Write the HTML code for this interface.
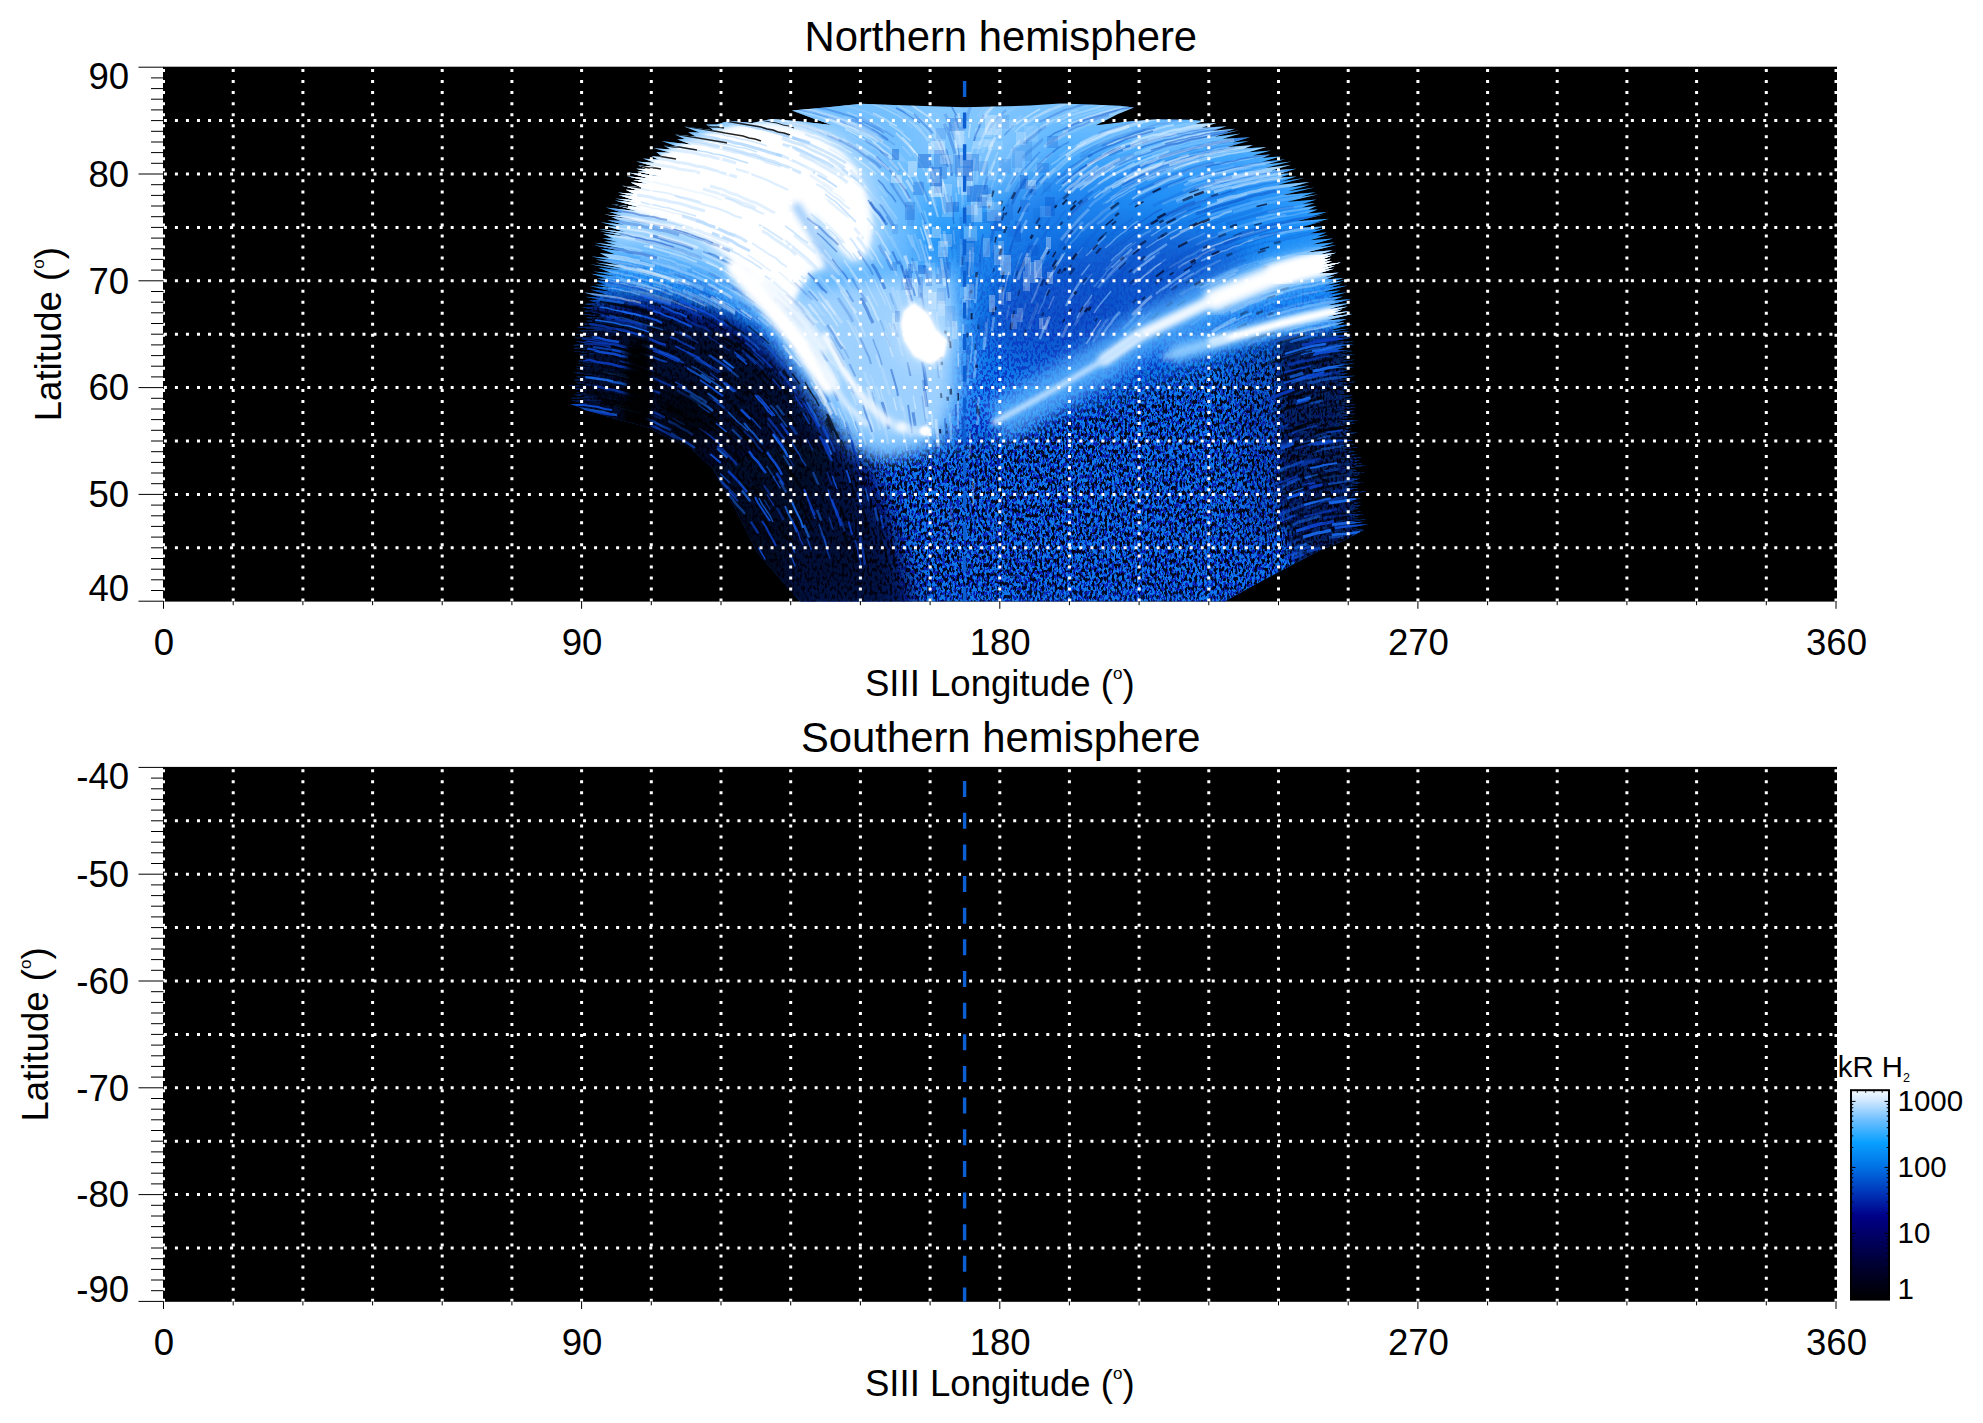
<!DOCTYPE html>
<html lang="en"><head><meta charset="utf-8"><title>Jupiter aurora maps</title>
<style>html,body{margin:0;padding:0;background:#fff}svg{display:block}</style>
</head><body>
<svg width="1983" height="1423" viewBox="0 0 1983 1423" font-family="Liberation Sans, Arial, Helvetica, sans-serif" fill="#000">
<defs>
<filter id="bl1_2" x="-30%" y="-30%" width="160%" height="160%"><feGaussianBlur stdDeviation="1.2"/></filter>
<filter id="bl2" x="-30%" y="-30%" width="160%" height="160%"><feGaussianBlur stdDeviation="2"/></filter>
<filter id="bl3" x="-30%" y="-30%" width="160%" height="160%"><feGaussianBlur stdDeviation="3"/></filter>
<filter id="bl5" x="-30%" y="-30%" width="160%" height="160%"><feGaussianBlur stdDeviation="5"/></filter>
<filter id="bl8" x="-30%" y="-30%" width="160%" height="160%"><feGaussianBlur stdDeviation="8"/></filter>
<filter id="bl12" x="-30%" y="-30%" width="160%" height="160%"><feGaussianBlur stdDeviation="12"/></filter>
<filter id="bl18" x="-30%" y="-30%" width="160%" height="160%"><feGaussianBlur stdDeviation="18"/></filter>
<filter id="bl28" x="-30%" y="-30%" width="160%" height="160%"><feGaussianBlur stdDeviation="28"/></filter>
<clipPath id="aclip"><path d="M861.0 103.8L900.0 105.3L964.0 107.2L1030.0 105.6L1060.0 103.6L1090.0 104.6L1120.0 105.8L1134.0 107.6L1118.0 114.0L1096.0 125.2L1130.0 121.3L1157.0 119.2L1190.0 119.8L1205.0 121.0L1207.1 120.0L1195.5 124.0L1216.4 123.1L1201.5 127.8L1226.7 126.2L1212.5 130.7L1235.2 128.8L1223.0 133.0L1239.0 130.2L1213.8 136.7L1240.8 133.4L1222.4 138.7L1250.1 137.3L1232.3 142.6L1248.9 140.9L1227.1 146.9L1253.3 144.9L1244.0 148.6L1266.3 147.1L1248.9 152.2L1271.0 150.4L1252.9 155.6L1270.3 154.6L1262.4 158.0L1281.5 156.2L1262.0 161.8L1285.1 159.2L1266.2 164.6L1291.4 161.4L1265.2 168.1L1291.4 164.8L1271.2 170.4L1296.3 168.8L1278.5 174.0L1293.0 173.2L1279.9 177.5L1296.5 176.6L1281.7 181.3L1304.3 178.0L1277.9 184.8L1309.5 182.0L1289.7 187.5L1309.4 185.3L1287.9 191.2L1314.8 187.4L1282.0 195.3L1315.6 192.2L1301.0 196.8L1318.4 194.2L1286.5 201.9L1316.7 199.5L1302.2 204.1L1314.8 203.1L1301.9 207.4L1316.7 206.1L1308.2 209.7L1317.9 209.6L1307.3 213.5L1327.0 212.0L1310.0 217.1L1324.4 214.2L1296.4 221.2L1329.0 218.7L1309.9 224.1L1324.4 221.1L1298.5 227.8L1323.3 226.5L1313.3 230.3L1325.1 228.8L1309.4 233.6L1326.4 232.6L1316.5 236.4L1328.5 234.9L1309.8 240.3L1333.2 238.6L1312.0 244.4L1334.1 242.6L1319.4 247.2L1336.2 245.0L1305.9 252.5L1332.7 250.2L1319.1 254.6L1336.0 252.7L1321.8 257.2L1331.8 255.6L1321.9 259.4L1330.8 258.7L1323.2 262.1L1331.9 261.2L1321.8 265.0L1340.9 262.6L1320.0 268.4L1334.7 266.1L1323.0 270.2L1333.9 268.7L1318.5 273.5L1338.5 272.8L1323.4 277.5L1335.1 275.8L1325.2 279.5L1343.7 278.0L1327.0 283.0L1345.7 280.0L1324.8 285.8L1342.0 283.4L1328.9 287.7L1347.6 285.5L1322.6 292.0L1340.7 290.2L1328.8 294.4L1347.0 292.3L1328.0 297.7L1343.1 296.6L1331.5 300.7L1351.3 299.1L1326.4 305.6L1350.5 303.1L1328.7 309.0L1347.7 306.5L1333.1 311.1L1342.4 309.4L1333.8 313.0L1349.9 311.0L1326.8 317.1L1352.7 313.8L1326.6 320.5L1346.6 319.0L1334.6 323.2L1344.8 321.9L1334.8 325.7L1352.7 324.1L1328.9 330.4L1350.1 328.6L1329.5 332.2L1350.3 331.1L1328.3 334.8L1351.5 334.9L1333.3 338.3L1352.0 337.6L1334.6 341.0L1354.2 341.2L1334.3 344.8L1354.0 344.1L1331.1 347.9L1345.1 347.3L1336.2 350.0L1352.8 350.9L1336.4 354.2L1354.9 354.3L1332.3 358.1L1350.3 357.7L1336.9 360.7L1355.1 359.7L1332.7 363.5L1354.9 363.1L1335.1 366.7L1354.0 367.0L1337.0 370.3L1348.3 370.0L1337.0 372.9L1348.2 373.3L1335.9 376.3L1355.5 375.7L1336.6 379.2L1352.1 378.7L1331.0 382.4L1356.0 381.8L1335.7 385.4L1351.9 385.4L1339.1 388.4L1348.3 388.6L1339.3 391.3L1348.4 392.2L1336.6 395.1L1352.9 395.6L1338.1 398.8L1353.1 398.7L1333.7 402.2L1353.3 401.4L1339.0 404.6L1355.8 404.1L1337.1 407.6L1355.9 407.2L1332.7 411.1L1354.5 410.6L1337.5 413.9L1355.6 413.8L1338.2 417.2L1353.7 416.9L1333.2 420.6L1358.6 420.3L1333.7 424.3L1355.5 423.2L1334.1 426.9L1351.4 427.5L1342.5 430.2L1351.2 430.6L1342.3 433.3L1358.1 432.6L1337.5 436.3L1353.0 436.7L1338.9 439.8L1353.4 440.1L1337.4 443.4L1354.9 444.0L1337.1 447.4L1358.3 446.9L1337.0 450.6L1355.2 451.0L1343.9 453.9L1357.7 454.2L1346.2 457.1L1362.3 457.0L1347.4 460.2L1359.7 460.4L1347.9 463.3L1362.2 463.1L1345.0 466.5L1366.5 465.3L1342.4 469.3L1357.4 469.9L1348.1 472.6L1365.2 472.0L1348.4 475.4L1361.7 474.5L1342.2 478.1L1360.0 478.6L1349.6 481.5L1363.6 482.2L1345.0 485.7L1358.0 484.9L1345.3 488.0L1358.3 487.9L1342.3 491.2L1366.5 491.3L1350.4 494.6L1358.5 495.1L1343.6 498.3L1361.6 498.3L1347.2 501.4L1361.0 502.3L1350.6 505.1L1360.8 505.6L1350.9 508.4L1358.8 508.3L1350.5 511.0L1361.8 510.9L1345.4 514.2L1364.0 513.9L1350.8 516.9L1358.8 517.0L1350.5 519.7L1366.8 519.0L1348.0 522.5L1364.0 521.7L1343.7 525.3L1367.9 524.3L1349.4 527.8L1364.0 530.0L1345.0 540.0L1320.6 550.0L1290.0 566.0L1260.0 582.0L1225.0 601.2L800.0 601.2L790.0 590.0L757.0 552.0L735.0 508.0L713.0 469.0L691.0 448.0L660.0 434.0L650.0 428.0L636.0 424.0L614.0 418.5L600.0 414.0L585.0 410.0L579.0 407.0L570.4 404.2L590.2 403.6L571.5 400.6L602.9 400.7L569.7 397.9L595.8 397.6L573.6 394.8L588.4 393.9L576.1 392.5L584.7 391.2L574.5 388.8L585.2 387.7L568.9 385.7L598.9 385.7L574.9 382.8L586.9 381.7L573.5 379.9L586.2 378.9L575.8 376.4L602.4 376.2L573.4 372.8L588.0 371.8L576.2 368.8L590.2 367.9L575.8 366.4L592.5 365.6L578.0 363.2L593.4 362.3L577.6 360.9L587.7 359.7L580.2 358.0L587.7 356.6L578.6 354.8L596.0 354.0L573.8 351.3L597.9 351.0L572.9 347.9L593.1 347.3L572.2 345.1L590.1 344.3L576.0 341.6L589.6 340.7L574.0 337.6L598.8 337.3L575.4 334.3L591.5 333.4L579.1 330.7L604.9 330.5L576.7 327.1L600.0 326.7L578.9 323.3L603.1 322.9L585.9 321.0L594.1 319.7L585.8 317.6L607.6 317.1L581.2 314.3L603.4 313.8L583.5 311.1L595.4 310.0L582.1 307.2L603.0 306.6L584.1 304.1L598.0 303.1L589.3 300.6L599.2 299.4L585.5 296.7L601.5 297.8L584.2 292.5L607.2 294.8L590.2 289.5L612.2 291.7L589.5 285.9L612.0 288.1L594.7 284.4L605.5 284.5L593.8 280.2L611.5 281.6L596.7 278.5L606.8 278.5L591.0 273.7L615.0 276.2L593.3 271.4L611.2 272.8L597.9 267.8L621.3 270.2L589.7 264.2L622.8 268.3L595.2 262.5L620.2 265.2L595.9 259.5L609.9 260.2L591.3 256.4L609.5 257.9L599.8 253.3L615.1 254.3L600.5 248.8L622.2 250.9L593.7 245.2L620.2 248.2L594.5 242.8L616.6 245.0L604.3 241.2L617.5 241.8L602.3 238.3L613.3 238.4L603.2 234.1L627.2 236.7L599.6 231.3L627.9 234.6L598.7 228.9L625.8 231.9L606.4 226.2L620.4 226.9L600.4 222.2L625.5 224.9L607.1 220.2L621.0 220.9L611.3 217.0L633.0 219.1L604.0 214.4L622.6 216.0L609.2 212.1L622.8 212.7L605.8 207.5L637.4 211.3L611.2 204.0L640.2 207.4L614.9 200.6L638.4 203.0L614.9 198.4L634.7 200.2L618.5 195.1L634.7 196.3L617.5 192.6L634.6 193.9L625.7 189.8L639.1 190.4L622.1 185.7L641.2 187.3L630.7 182.4L648.2 183.7L633.3 180.0L643.1 180.0L627.0 176.2L649.4 178.4L628.1 172.4L662.1 176.7L637.1 171.4L647.0 171.4L636.1 168.8L647.0 168.9L638.0 165.4L655.4 166.7L636.3 161.4L655.6 163.1L642.8 158.6L659.2 159.8L651.5 156.2L661.8 156.3L656.3 151.9L671.0 152.7L653.7 148.2L671.1 149.6L663.8 145.7L677.8 146.4L661.5 141.1L692.1 144.8L677.4 139.4L684.8 138.9L674.9 134.6L696.7 136.7L688.2 132.2L699.6 132.4L684.0 126.6L713.5 130.2L706.1 124.4L716.2 124.5L729.8 120.7L752.2 122.9L771.5 119.0L800.0 121.5L831.5 125.0L812.0 118.0L792.0 110.6L830.0 107.0Z"/></clipPath>
<linearGradient id="abase" gradientUnits="userSpaceOnUse" x1="0" y1="105" x2="0" y2="601"><stop offset="0" stop-color="#78c2ff"/><stop offset="0.10" stop-color="#54b2ff"/><stop offset="0.25" stop-color="#2c9efc"/><stop offset="0.42" stop-color="#168af4"/><stop offset="0.62" stop-color="#107cee"/><stop offset="1" stop-color="#1078ee"/></linearGradient>
<filter id="speck" x="0" y="0" width="100%" height="100%" color-interpolation-filters="sRGB"><feTurbulence type="fractalNoise" baseFrequency="0.42 0.24" numOctaves="2" seed="11" result="n"/><feColorMatrix in="n" type="matrix" values="0 0 0 0 0.03  0 0 0 0 0.12  0 0 0 0 0.72  9 0 0 0 -4.3"/></filter>
<filter id="speck2" x="0" y="0" width="100%" height="100%" color-interpolation-filters="sRGB"><feTurbulence type="fractalNoise" baseFrequency="0.40 0.22" numOctaves="2" seed="23" result="n"/><feColorMatrix in="n" type="matrix" values="0 0 0 0 0  0 0 0 0 0  0 0 0 0 0.06  0 9 0 0 -4.5"/></filter>
<linearGradient id="smg" gradientUnits="userSpaceOnUse" x1="0" y1="230" x2="0" y2="470"><stop offset="0" stop-color="#000"/><stop offset="0.35" stop-color="#555"/><stop offset="0.8" stop-color="#fff"/><stop offset="1" stop-color="#fff"/></linearGradient>
<linearGradient id="cb" x1="0" y1="1" x2="0" y2="0"><stop offset="0" stop-color="#000000"/><stop offset="0.16" stop-color="#000030"/><stop offset="0.32" stop-color="#00006a"/><stop offset="0.40" stop-color="#000088"/><stop offset="0.50" stop-color="#0030b4"/><stop offset="0.63" stop-color="#0070e4"/><stop offset="0.75" stop-color="#08a0ff"/><stop offset="0.86" stop-color="#70c0ff"/><stop offset="0.95" stop-color="#d0e8ff"/><stop offset="1" stop-color="#f4faff"/></linearGradient>
</defs>
<rect width="1983" height="1423" fill="#fff"/>
<clipPath id="clipx"><rect x="163.0" y="0" width="1674.0" height="1423"/></clipPath>
<rect x="163.0" y="66.7" width="1674.0" height="534.9" fill="#000"/>
<g clip-path="url(#aclip)">
<rect x="560" y="95" width="830" height="510" fill="url(#abase)"/>
<path d="M1010 185L1100 165L1250 160L1330 215L1350 262L1345 335L1200 335L1010 330Z" fill="#0c80f4" filter="url(#bl18)" opacity="0.5"/>
<ellipse cx="962" cy="150" rx="75" ry="48" fill="#a0d4ff" filter="url(#bl18)" opacity="0.5"/>
<ellipse cx="1085" cy="285" rx="115" ry="85" fill="#0a50c8" filter="url(#bl28)" opacity="0.38" transform="rotate(25 1085 285)"/>
<ellipse cx="1120" cy="285" rx="130" ry="45" fill="#0848c0" filter="url(#bl18)" opacity="0.6" transform="rotate(-15 1120 285)"/>
<ellipse cx="1050" cy="330" rx="70" ry="45" fill="#0848c0" filter="url(#bl18)" opacity="0.45"/>
<mask id="sm1"><rect x="560" y="95" width="830" height="510" fill="url(#smg)"/></mask>
<g mask="url(#sm1)"><rect x="560" y="95" width="830" height="510" filter="url(#speck)"/></g>
<path d="M554 295L586 299L650 296L720 311L757 332L792 367L824 407L850 447L877 479L917 621L554 621Z" fill="#051878" filter="url(#bl8)" opacity="0.9"/>
<path d="M554 314L650 314L720 330L757 354L789 388L818 428L837 455L810 501L757 621L554 621Z" fill="#010826" filter="url(#bl8)" opacity="0.88"/>
<path d="M700 470L800 440L852 462L878 520L896 570L905 615L690 615Z" fill="#010826" filter="url(#bl18)" opacity="0.8"/>
<path d="M560 428L614 422L655 433L690 449L712 471L733 510L756 554L795 600L800 612L560 612Z" fill="#000" filter="url(#bl8)" opacity="0.9"/>
<path d="M1279 338L1375 330L1375 560L1300 575L1279 500Z" fill="#010a3c" filter="url(#bl5)" opacity="0.78"/>
<path d="M1235 345L1285 340L1285 520L1250 560Z" fill="#04288c" filter="url(#bl12)" opacity="0.35"/>
<mask id="sm2"><path d="M560 300L700 310L800 380L880 450L1000 440L1100 400L1250 350L1390 340L1390 610L560 610Z" fill="#fff" filter="url(#bl12)"/></mask>
<g mask="url(#sm2)" opacity="0.92"><rect x="560" y="95" width="830" height="510" filter="url(#speck2)"/></g>
<path d="M597 250L615 207L637 167L685 140L741 121L810 105L904 103L917 180L917 260L904 300L877 314L837 287L810 303L773 314L736 298L690 271L637 259L597 264Z" fill="#74c0ff" filter="url(#bl12)" opacity="0.95"/>
<path d="M607 226L623 193L650 167L704 137L773 119L837 124L877 167L885 234L872 271L837 271L800 298L757 282L704 255L650 242L610 244Z" fill="#a4d6ff" filter="url(#bl8)" opacity="0.95"/>
<path d="M730 287L757 308L778 332L797 359L816 386L837 412L858 442L880 455L917 447L933 436L917 418L890 391L864 364L842 338L826 311L810 284L784 268Z" fill="#bcdfff" filter="url(#bl8)" opacity="0.95"/>
<path d="M758 296L800 276L880 266L958 258L968 330L965 400L952 440L900 453L862 452L836 428L816 398L796 366L772 332Z" fill="#58b2ff" filter="url(#bl12)" opacity="0.9"/>
<path d="M775 305L810 290L880 280L950 275L955 330L952 400L940 432L900 442L868 440L845 420L826 392L806 360L788 330Z" fill="#a4d4ff" filter="url(#bl8)" opacity="0.92"/>
<path d="M637 167L658 157L685 143L714 132L741 125L773 124L800 129L824 140L842 153L856 169L864 188L869 207L872 226L869 244L864 255L853 260L842 250L832 234L818 217L810 212L818 239L826 266L810 271L800 287L792 303L784 308L773 298L757 282L741 266L720 250L698 236L677 226L655 217L637 212L623 207L621 193L629 177Z" fill="#fff" filter="url(#bl5)"/>
<path d="M637 167L658 157L685 143L714 132L741 125L773 124L800 129L824 140L842 153L856 169L864 188L869 207L872 226L869 244L864 255L853 260L842 250L832 234L818 217L810 212L818 239L826 266L810 271L800 287L792 303L784 308L773 298L757 282L741 266L720 250L698 236L677 226L655 217L637 212L623 207L621 193L629 177Z" fill="#fff" filter="url(#bl2)" opacity="0.8"/>
<path d="M797 207L810 228L824 252L833 271" fill="none" stroke="#8fc4fa" stroke-width="9" stroke-linecap="round" stroke-linejoin="round" filter="url(#bl3)" opacity="0.85"/>
<path d="M879 97L885 100L892 102L898 105L904 109L910 112L916 116L922 120L927 125M1276 259L1283 257L1290 256L1296 254L1303 253L1310 252L1317 251M819 293L823 298L827 304L831 309L836 315M644 292L651 294L658 296L664 298L671 300L677 303L684 306L690 308L697 311M926 319L927 326L928 333L929 340L930 347M1000.6 184.5L1003.6 178.2L1006.6 171.8M1162 143L1169 141L1176 140L1182 138L1189 137L1196 135L1203 134L1210 132L1217 131L1224 130L1231 129L1237 128L1244 127M987 178L989 172L992 165L995 159L998 152M1103 193L1109 189L1115 185L1121 182L1127 179L1133 176L1140 172L1146 169L1152 167L1159 164L1165 162M872 141L878 145L883 150L889 154L894 159M880 284L883 291L886 297L889 304L891 310M809 289L814 294L818 300L823 305L827 311M881 196L885 202L889 208L893 213L897 219M1123 343L1127 337L1132 332L1136 327L1141 322L1146 317L1151 312M969 459L970 452L970 445L970 438L970 431M1040 127L1046 124L1052 121L1058 118L1065 115L1071 112L1078 110M1033 118L1039 115L1046 112L1052 109L1059 107L1065 104L1072 102L1079 100L1086 99M742.7 295.1L748.5 299.2L754.2 303.2M1186 160L1193 158L1199 156L1206 155L1213 153L1220 152L1227 150L1234 149L1240 148L1247 147L1254 146L1261 145L1268 144L1275 143L1282 142L1289 141L1296 141M1010.7 150.7L1015.3 145.4L1019.9 140.2M924.0 210.3L926.2 216.9L928.4 223.5M795.0 354.8L799.2 360.3L803.5 365.9M1059 191L1064 186L1070 182L1075 177L1081 173L1086 169L1092 165M865 281L868 287L871 293L874 299L878 306M1056 184L1061 179L1067 175L1072 170L1078 166L1083 162L1089 158M784.5 348.8L789.1 354.1L793.6 359.5M849.4 269.9L853.4 275.6L857.3 281.4M902 423L903 430L904 437L906 444L907 451M909.8 145.9L914.2 151.4L918.5 156.8M1166 141L1173 139L1179 137L1186 136L1193 134L1200 133L1207 132L1214 130L1221 129L1228 128L1234 127L1241 126L1248 125M559 241L566 241L573 241L580 242L587 242L594 243L601 244L608 245L614 246L621 247L628 248L635 249L642 251M971.0 159.2L971.9 152.2L972.8 145.3M953.5 230.1L954.0 237.1L954.6 244.1M1220 293L1226 290L1233 287L1239 284L1246 282L1252 279L1259 277L1265 274L1272 272M880 388L882 395L884 402L886 408L887 415M955.9 192.6L956.5 199.6L957.0 206.5M854 326L857 332L860 339L863 345L866 351M653 285L660 287L667 289L673 292L680 294L686 297L693 300L699 303L705 306M932.6 181.8L934.8 188.4L937.0 195.1M862.3 392.7L864.6 399.3L867.0 405.9M866 405L868 412L870 419L872 425L874 432M874 279L877 286L880 292L883 298L886 305M847 112L854 115L860 117L867 120L873 123L879 126L885 130M1048.3 309.0L1051.2 302.6L1054.1 296.3M854 127L861 130L867 133L873 137L879 141L884 145L890 149M1112 202L1118 198L1124 195L1130 191L1136 188M692 270L698 273L705 276L711 279L717 283L723 286L729 289L736 293L741 296M935 308L936 315L937 322L938 329L939 336M606 284L613 285L620 286L627 288L634 289L640 291L647 293M876.2 386.4L878.3 393.1L880.4 399.8M1190 196L1197 194L1204 192L1210 189L1217 187L1224 186L1231 184L1237 182L1244 181L1251 179L1258 178L1265 176L1272 175L1278 174L1285 173L1292 172L1299 171L1306 170L1313 169M1275 275L1282 273L1288 271L1295 270L1302 268L1309 267L1316 266L1323 265L1330 264L1337 263L1344 262L1351 262L1358 261L1365 261L1372 261M1183 217L1190 214L1196 211L1203 209L1209 206L1216 204L1223 201M819 343L823 349L826 354L830 360L834 366M865 101L872 104L878 106L885 109L891 112L897 115L903 119" fill="none" stroke="#ffffff" stroke-width="1.5" opacity="0.25" stroke-linecap="butt"/>
<path d="M778 293L783 298L788 303L794 308L798 313M783 135L789 137L796 139L803 142L809 144L815 147L822 150L828 153L834 156L841 160L846 163M682 216L689 218L695 220L702 222L708 225L715 227L721 230L728 233L734 235L741 238L747 242" fill="none" stroke="#a9d4fd" stroke-width="3" opacity="0.55" stroke-linecap="butt"/>
<path d="M701 349L707 352L713 356L719 360L724 364M736.7 386.6L741.9 391.3L747.1 396.1M727.3 338.2L733.0 342.3L738.6 346.5M800 516L803 522L806 528L808 535L811 541M771 375L776 380L780 385L785 391L789 396M773.5 552.7L776.5 559.0L779.6 565.3M563 369L570 369L577 370L584 371L591 372L598 373L605 374L612 375L619 377M757.6 492.3L761.5 498.1L765.4 503.9M863 508L864 515L866 521L868 528L869 535M879 525L880 531L881 538L882 545L884 552M683.2 380.9L689.3 384.4L695.4 387.8M590 390L597 392L604 393L611 394L618 396M651 327L658 329L664 332L671 334L677 337M825.3 420.1L828.3 426.4L831.3 432.7M778 383L782 388L787 394L791 400L795 405M651 303L658 305L664 307L671 310L677 312L684 315L690 318M746.2 453.3L750.7 458.6L755.2 464.0M641 312L648 314L654 316L661 319L667 321L674 324L680 326M734.0 451.8L738.6 456.8L743.3 461.8M727.9 489.6L731.9 494.0L735.8 498.3M788.8 414.8L792.7 420.7L796.5 426.5M583 392L590 393L597 394L604 395L610 397L617 398L624 400M730.5 487.8L734.5 492.4L738.6 497.0M611 375L618 376L625 378L631 380L638 382M724 320L729 324L735 328L741 332L746 336M732.4 443.8L737.2 448.8L742.1 453.9M707.5 389.7L713.1 393.8L718.8 397.9M703.3 411.8L709.0 415.9L714.6 420.1M732 335L738 339L743 343L749 347L754 352M755 483L759 489L763 495L766 500L770 506M843.7 532.8L845.5 539.5L847.4 546.3" fill="none" stroke="#000" stroke-width="2.5" opacity="0.5" stroke-linecap="butt"/>
<path d="M972 185L972 179L973 172L974 165L975 158M636 129L643 130L650 130L657 131L664 132L670 133L677 134L684 135L691 136L698 137L705 138L712 139L719 140L726 142L733 143L739 145L746 146L753 148L760 150M916 125L921 130L925 136L930 141L934 147M823 346L827 352L831 358L834 364L837 370M1198 315L1204 311L1210 307L1216 304L1222 301L1228 298L1235 294M958 401L958 408L958 415L958 422L958 429M676 114L683 115L690 116L696 117L703 117L710 118L717 119L724 120L731 122L738 123L745 124L752 125L759 127L765 128L772 130L779 132L786 133M1056 122L1063 119L1069 116L1076 114L1082 112L1089 110L1096 108L1102 106L1109 104M916 177L919 183L922 189L925 196L927 202M1063 132L1070 129L1076 126L1083 124L1089 121L1096 119L1103 117L1109 115L1116 113L1123 112L1130 110L1136 109L1143 107L1150 106L1157 105L1164 104L1171 103L1178 102L1185 101M1031 303L1034 297L1037 290L1039 284L1042 277M885 251L888 257L891 263L894 269L897 276M966.4 315.1L966.5 308.1L966.6 301.1M924.4 268.1L926.0 275.0L927.6 281.8M589 232L596 233L603 234L610 235L617 236L624 237L630 238L637 239L644 241L651 242L658 244L665 246L671 248M1015 132L1020 127L1026 123L1032 120L1038 116L1044 112L1050 109M1051 165L1057 161L1062 157L1068 153L1074 149L1080 145L1086 142M948 321L949 328L949 335L950 342L950 349M907.9 234.3L910.5 240.8L913.1 247.3M1048 178L1053 173L1059 169L1064 164L1069 160M624 249L631 251L638 252L645 254L651 256L658 257L665 259L672 261L678 264L685 266L691 268M604 271L611 272L618 273L625 275L632 276L638 278L645 280L652 281L659 283L665 285L672 288M922 296L923 303L925 310L926 317L927 323M797 305L802 310L807 315L811 321L815 326M1232 188L1238 187L1245 185L1252 184L1259 182L1266 181L1273 180L1280 179L1287 177L1294 176L1300 176L1307 175L1314 174L1321 173L1328 173M973 506L973 499L973 492L973 485L973 478M779 107L786 109L793 110L799 111L806 113L813 115L820 117L826 119L833 121L840 123L846 126L853 128L859 131M876.1 354.8L878.5 361.4L880.8 368.0M820.2 354.8L823.9 360.7L827.6 366.7M889.0 322.6L891.2 329.2L893.5 335.8M633 283L640 285L646 286L653 288L660 290L666 293L673 295M821 394L824 401L827 407L830 413L833 419M818 358L822 364L826 370L829 376L833 382M882 416L883 423L885 430L887 437L888 444M604 247L611 248L618 250L624 251L631 252L638 254L645 255L652 257L659 259M920 239L922 245L924 252L926 259L928 266M723 279L730 282L736 286L741 290L747 294M1080 143L1087 140L1093 137L1099 134L1106 132L1113 129L1119 127L1126 125L1133 123L1139 122L1146 120L1153 118L1160 117L1167 115L1174 114L1181 113L1187 112M851.3 392.1L853.9 398.6L856.5 405.1M1256 218L1263 217L1270 215L1277 214L1284 212L1291 211L1298 210L1304 209L1311 208L1318 207L1325 206L1332 206L1339 205L1346 204L1353 204M909 121L914 125L919 130L924 135L928 141M1220 164L1227 163L1234 161L1241 160L1248 159L1255 157L1262 156L1268 155L1275 154L1282 153L1289 153L1296 152L1303 151L1310 150L1317 150M642 271L648 273L655 275L662 277L668 279L675 281L682 284M869 162L874 166L879 171L884 176L889 181M1025 189L1029 183L1034 178L1038 172L1043 167M816 386L819 392L823 398L826 405L829 411M857 419L860 425L862 432L864 439L866 445M847 320L851 326L854 332L857 338L860 345M937 349L937 356L938 363L939 370L940 377M922 220L924 227L926 234L928 240L930 247M854 312L857 318L860 324L863 331L866 337M798 349L803 355L807 361L811 366L815 372M913.9 300.7L915.6 307.4L917.3 314.2M613 280L620 281L627 283L634 284L641 286L647 288L654 290M870.1 427.6L872.1 434.4L874.0 441.1M597 263L604 264L611 265L618 266L624 267L631 269L638 270L645 272L652 273M808 304L812 310L817 315L821 321L825 326" fill="none" stroke="#ffffff" stroke-width="2" opacity="0.25" stroke-linecap="butt"/>
<path d="M1304 505L1311 503L1318 501L1325 499L1331 498M1301 354L1308 352L1315 351L1322 350L1329 348L1335 347L1342 346M626.8 406.6L633.5 408.7L640.2 410.9M690 395L696 399L702 403L708 407L713 411M614 405L621 407L627 409L634 411L641 413M1332 535L1339 534L1346 534L1353 533L1360 532M773 434L777 440L781 445L785 451L788 457M1285 354L1292 352L1299 350L1305 348L1312 346L1319 345L1326 344M1287.2 498.4L1293.6 496.0L1300.1 493.7" fill="none" stroke="#1a6cf0" stroke-width="2.5" opacity="0.9" stroke-linecap="butt"/>
<path d="M652.3 411.9L658.7 414.7L665.0 417.6M780.9 423.4L784.8 429.1L788.7 434.8M776.4 472.8L780.1 478.8L783.7 484.8M1297 380L1303 378L1310 377L1317 375L1324 373M728 471L733 476L738 481L742 486L747 492M650 425L657 428L663 431L669 434L675 438M832 499L834 506L837 512L839 519L841 526M1284 373L1291 371L1298 369L1305 367L1311 365M583 360L590 360L597 362L604 363L611 364L618 366L624 367L631 369L638 371M626 332L632 334L639 336L646 338L652 340L659 343L666 345M1284.1 557.5L1290.6 554.9L1297.1 552.3M1301.8 486.2L1308.5 484.3L1315.2 482.4M820 436L823 442L826 449L829 455L832 461" fill="none" stroke="#0a3cc0" stroke-width="2.5" opacity="0.9" stroke-linecap="butt"/>
<path d="M1296 270L1303 268L1310 267L1317 266L1323 265L1330 264L1337 263L1344 263L1351 262L1358 262L1365 261L1372 261L1379 261M964.0 120.0L964.1 127.0L964.2 134.0M991 189L993 183L996 176L998 170L1001 163M870 375L873 381L875 388L877 395L879 401M652 274L659 276L666 278L672 280L679 283L685 285L692 288M1196 245L1202 242L1209 239L1215 237L1222 234L1228 231L1235 229M1105 270L1110 265L1115 260L1120 255L1125 250L1131 246L1136 242M975.6 207.1L976.5 200.1L977.3 193.2M863 408L865 415L867 421L869 428L871 435M668 116L675 117L682 117L689 118L696 119L703 120L710 121L717 122L724 123L731 124L738 125L744 127L751 128L758 129L765 131L772 133L779 134M1187 164L1194 162L1201 160L1207 158L1214 157L1221 155L1228 154L1235 153L1242 151L1248 150L1255 149L1262 148L1269 147L1276 146L1283 145M962 180L962 187L962 194L962 201L962 208M955 144L956 151L957 158L958 165L959 172M905 347L907 354L908 361L910 368L911 375M820.3 362.0L823.9 368.0L827.5 374.0M971 205L972 198L973 191L973 184L974 177M1263 336L1270 334L1276 331L1283 329L1290 327L1296 325L1303 324L1310 322L1317 321L1324 319L1331 318M1205 286L1211 283L1217 280L1223 277L1230 274L1236 271L1243 269L1249 266L1256 264M927.7 160.5L930.7 166.8L933.7 173.1M913 329L915 336L916 342L918 349L919 356M601 242L608 243L615 244L622 245L628 247L635 248L642 250L649 251L656 253L662 255L669 257M855.6 277.7L859.3 283.7L863.0 289.6M880 142L886 146L891 151L896 156L901 161M993.7 136.5L997.9 130.9L1002.1 125.4M845 116L851 118L858 121L864 124L871 127L877 131L883 134M992.4 252.7L993.9 245.8L995.3 239.0M1031 171L1036 166L1041 161L1046 157L1052 152M1177 203L1183 201L1190 198L1196 196L1203 193L1209 191L1216 189L1223 187L1230 185L1236 184L1243 182L1250 180L1257 179L1264 177L1270 176L1277 175L1284 174M825 354L829 360L832 366L836 372L839 379M898.3 152.7L902.9 158.0L907.5 163.3M799 278L804 283L809 288L814 293L818 298M623 269L630 270L636 272L643 274L650 276L657 278L663 280L670 282L677 284M839.4 287.6L843.3 293.4L847.3 299.1M807 349L811 355L815 360L819 366L822 372M857 286L861 292L864 299L868 305L871 311M1270 317L1277 315L1283 313L1290 311L1297 309L1304 308L1311 306L1317 305L1324 304L1331 303L1338 302L1345 301L1352 300M1117 154L1123 152L1130 149L1136 147L1143 144L1150 142L1157 140L1163 138L1170 137L1177 135L1184 133L1190 132L1197 130L1204 129L1211 128L1218 127L1225 126M785 105L792 106L799 107L806 109L813 110L819 112L826 114L833 116L839 118L846 121L853 123L859 126L865 129L871 132L878 136M1098 145L1104 142L1110 139L1117 137L1124 134L1130 132L1137 130L1144 128L1151 127L1157 125L1164 123L1171 122L1178 121L1185 119L1192 118L1199 117L1205 116M940 351L940 358L941 365L942 372L942 379M1301 294L1308 293L1315 292L1321 291L1328 290L1335 289L1342 288L1349 287L1356 287M1085 121L1091 118L1098 116L1105 114L1111 113L1118 111L1125 109L1132 108L1139 107L1146 105L1153 104L1159 103L1166 102M753 302L759 307L764 311L769 316L775 320M884.9 320.2L887.3 326.7L889.7 333.3M930.8 330.3L931.8 337.2L932.8 344.1M628 125L635 126L642 126L649 127L656 128L663 128L670 129L677 130L684 131L691 132L698 133L705 134L712 135L719 136L726 138L732 139L739 141L746 142L753 144L760 146L766 148M573 228L580 229L587 229L594 230L600 231L607 232L614 233L621 234L628 235L635 236L642 238L649 239L656 241L662 242L669 244M833 138L840 141L846 145L852 148L858 152L864 156L869 160M1059 156L1065 152L1070 148L1077 145L1083 141L1089 138L1095 135M915 274L917 281L919 288L921 295L922 302M1134 179L1141 176L1147 173L1154 170L1160 168L1167 165L1173 163L1180 161L1187 158M1224 330L1230 327L1236 324L1242 320L1249 318M909 148L913 153L917 159L921 165L925 171M1169 142L1175 140L1182 139L1189 137L1196 136L1203 134L1210 133L1217 132L1223 131L1230 130L1237 129M824.8 304.6L829.0 310.3L833.1 315.9M1283 341L1290 339L1297 337L1304 335L1310 334L1317 332L1324 331M937 423L938 430L938 437L939 444L939 451M1185 186L1191 184L1198 181L1205 179L1211 177L1218 176L1225 174L1232 172L1238 170L1245 169L1252 168M1075 174L1081 170L1087 166L1093 163L1099 159L1105 156L1111 153" fill="none" stroke="#ffffff" stroke-width="1.5" opacity="0.15" stroke-linecap="butt"/>
<path d="M603 303L609 304L616 305L623 307L630 308L637 310L643 312M719 452L724 457L729 462L734 467L739 472M761 388L766 393L770 398L775 403L779 409M661 313L668 315L674 318L681 320L687 323M620 370L627 372L633 374L640 376L647 378M589 298L596 299L603 300L610 302L617 303L624 304L630 306L637 307L644 309M802.8 496.9L805.3 502.4L807.8 507.9M641 379L648 381L654 384L661 387L667 389M756 522L759 528L763 534L767 540L770 546M713.8 437.6L719.1 442.2L724.4 446.7M802.7 398.7L806.3 404.6L810.0 410.6M776 452L780 458L784 464L787 470L791 476M600 402L607 403L614 405L621 407L627 408M784.2 465.2L787.7 471.3L791.3 477.3M778.2 382.7L782.5 388.2L786.9 393.7M654 387L660 390L666 393L673 396L679 399M599 365L606 367L613 368L619 369L626 371M754 475L758 481L762 486L766 492L770 498M767.3 534.1L770.0 539.1L772.8 544.1M748 326L753 330L759 335L764 339L769 344M841.4 439.4L843.8 445.9L846.3 452.5M825.0 440.9L827.8 447.3L830.6 453.7" fill="none" stroke="#000" stroke-width="1.5" opacity="0.5" stroke-linecap="butt"/>
<path d="M1168 283L1173 279L1179 275L1185 272L1191 268L1197 265L1203 261M1136 192L1142 189L1149 186L1155 183L1161 180L1168 178L1174 175L1181 173L1188 170L1194 168L1201 166L1208 164L1214 163M924.2 265.3L925.8 272.1L927.4 278.9M1226 224L1233 222L1239 220L1246 218L1253 216L1260 214L1266 212L1273 211L1280 209L1287 208L1294 207M611 220L618 221L625 223L632 224L638 225L645 227L652 228L659 230L666 231L673 233L679 235M1141 175L1148 173L1154 170L1161 167L1167 165L1174 163L1180 161L1187 159L1194 157L1201 155L1207 153L1214 152L1221 150L1228 149L1235 147M1123 339L1128 334L1133 329L1137 324L1142 318M1131 170L1137 167L1144 165L1150 162L1157 160L1163 157L1170 155L1177 153L1183 151L1190 150L1197 148L1204 146L1211 145L1217 143L1224 142L1231 141L1238 139L1245 138L1252 137M847 143L853 147L859 151L864 155L870 159L876 163L881 168M964 414L964 421L964 428L964 435L964 442M1195 284L1201 280L1208 277L1214 274L1220 271L1227 268L1233 265L1239 262L1246 260M944.2 124.0L947.1 130.4L949.9 136.8M851 120L858 122L864 126L870 129L876 132L882 136L888 140M891 183L895 189L899 195L903 201L907 207M879 245L882 251L886 257L889 264L892 270M1098 314L1103 308L1107 302L1111 297L1116 292M1058 178L1064 174L1069 169L1075 165L1081 161L1086 157L1092 154M846 422L848 428L851 435L853 441L855 448M876 157L881 162L886 167L891 171L896 177M901.2 265.6L903.7 272.2L906.1 278.8M947 127L949 134L951 141L953 147L955 154M987.1 255.5L988.2 248.6L989.4 241.7M825 376L828 382L832 388L835 394L838 401M1122 185L1128 181L1134 178L1141 175L1147 172L1154 170L1160 167L1167 165L1173 162L1180 160L1187 158L1193 156L1200 154L1207 152L1214 151M1211 256L1218 253L1224 250L1231 248L1237 245L1244 243L1251 241L1257 239L1264 237L1271 235L1278 233M1024 144L1029 139L1035 135L1040 130L1046 126M1109 155L1116 152L1122 150L1129 147L1135 145L1142 142L1148 140M650 224L657 226L664 227L671 229L677 231L684 233L691 236L697 238L704 240L710 243L717 245L723 248L730 251M771.5 324.3L776.5 329.2L781.5 334.1M1021 283L1024 276L1026 270L1029 263L1031 257M827 135L833 138L840 141L846 144L852 147M990 242L992 236L993 229L995 222L997 215M827 325L831 331L835 337L838 343L842 349" fill="none" stroke="#0a4cc4" stroke-width="3" opacity="0.3" stroke-linecap="butt"/>
<path d="M610 386L617 388L624 390L630 391L637 393M783.1 370.6L787.5 376.1L791.8 381.6M672.5 382.4L678.7 385.6L684.9 388.9M777 430L781 436L785 442L789 447L793 453M602 403L609 404L616 406L622 408L629 409M752.5 485.6L756.0 490.5L759.6 495.4M845.4 465.2L847.6 471.8L849.8 478.5M762.0 515.3L765.3 520.7L768.6 526.1M827 414L830 420L833 427L836 433L839 439M733 406L738 411L743 416L748 421L753 426M619 401L626 403L633 405L639 407L646 410M602 325L609 326L616 328L623 329L630 331L636 332L643 334M864.7 550.5L866.0 557.4L867.4 564.3M847 471L849 477L851 484L853 491L855 497M676.9 440.6L682.9 444.3L688.8 448.0M602 400L609 401L616 403L623 405L629 407L636 409L643 411M736 342L741 347L747 351L752 355L757 360M659.7 405.6L666.0 408.6L672.3 411.6M637.6 417.3L644.2 419.7L650.7 422.2M760.3 370.8L765.2 375.9L770.0 380.9M600 301L607 302L614 304L621 305L628 307L635 308L641 310L648 312L655 314M826.8 418.1L829.8 424.4L832.8 430.8M718.2 426.8L723.4 431.4L728.7 436.0M841.1 507.7L843.1 514.4L845.2 521.1M598 398L605 399L611 401L618 402L625 404M608 329L615 330L622 332L628 333L635 335L642 337L649 339M853.7 548.7L855.3 555.5L856.8 562.3M794.9 517.9L797.7 524.3L800.6 530.7M743.5 436.2L748.2 441.4L752.9 446.6M553 340L560 340L567 340L574 341L580 341L587 342L594 343L601 344L608 345L615 346L622 348" fill="none" stroke="#000" stroke-width="2.5" opacity="0.7" stroke-linecap="butt"/>
<path d="M724 445L729 450L734 455L739 460L744 465M731 421L736 426L741 431L746 436L751 441M703 434L708 438L714 443L719 447L724 452M850 465L852 472L854 478L856 485L858 492M629 406L636 409L643 411L649 413L656 416M778.2 525.0L781.4 531.2L784.5 537.5M753.2 495.7L757.2 501.5L761.2 507.2M837.2 483.8L839.5 490.4L841.7 497.0M793 474L797 480L800 486L803 492L806 499M600 313L607 314L614 316L621 317L627 319L634 321L641 322L648 324L654 326M720.4 374.9L726.0 379.2L731.5 383.5M747.2 410.5L752.0 415.6L756.8 420.7M550 340L557 341L564 341L571 341L578 342L585 342L592 343L599 344L606 345M862.6 473.0L864.4 479.8L866.2 486.6M702.6 444.3L708.1 448.6L713.6 453.0M696 372L702 375L708 379L714 383L720 387M721.9 377.0L727.4 381.3L732.9 385.6M702 316L708 320L714 323L720 327L726 331M746 436L750 441L755 447L759 452L764 458M813.7 440.0L816.8 446.3L819.8 452.5M649 372L656 374L662 377L669 380L675 383M843.2 527.0L844.9 533.2L846.6 539.3M769.2 361.8L773.9 366.9L778.7 372.1M727.5 399.9L732.8 404.5L738.0 409.1M576 309L583 310L590 310L597 311L604 313L611 314L618 315L625 316L632 318M877.3 509.6L878.7 516.4L880.0 523.3M620 359L627 361L633 363L640 365L647 367M761 448L765 453L769 459L773 465L777 471M785.1 388.8L789.3 394.4L793.4 400.0M719.0 338.4L724.8 342.3L730.5 346.3" fill="none" stroke="#000" stroke-width="2" opacity="0.5" stroke-linecap="butt"/>
<path d="M710 373L715 377L721 381L727 385L732 390M772.4 378.6L776.9 384.0L781.4 389.3M766.8 494.3L770.5 500.2L774.2 506.2M582 339L589 339L596 340L603 342L609 343L616 344L623 346L630 347L637 349M704 312L710 315L716 319L722 323L728 326M620 361L627 363L633 365L640 367L647 369M855 540L857 546L858 553L860 560L861 567M821 533L824 539L826 546L828 553L830 559M677 386L683 389L689 392L695 396L701 400M768.0 347.7L772.8 352.8L777.7 357.8M678 385L684 389L690 392L696 396L702 399" fill="none" stroke="#0a3cc0" stroke-width="1.5" opacity="0.7" stroke-linecap="butt"/>
<path d="M764.0 499.6L767.2 504.6L770.3 509.6M611 348L617 349L624 351L631 353L638 355M806.6 438.1L809.8 444.3L813.0 450.6M694 358L700 362L706 365L712 369L718 373M753.6 354.0L758.7 358.8L763.8 363.6M788.3 422.9L792.1 428.8L795.9 434.7M828.9 516.8L831.0 523.3L833.1 529.7M593 295L600 296L607 297L614 298L621 300L628 301L634 303L641 305L648 306" fill="none" stroke="#0e50dc" stroke-width="1.5" opacity="0.5" stroke-linecap="butt"/>
<path d="M1313 341L1320 340L1327 339L1334 338L1340 337L1347 336L1354 336M1288 365L1295 363L1302 361L1309 360L1316 358L1322 356L1329 355M1321 444L1328 442L1335 441L1342 440L1349 440L1356 439L1363 438" fill="none" stroke="#0a3cc0" stroke-width="3" opacity="0.7" stroke-linecap="butt"/>
<path d="M723.7 382.9L729.1 387.3L734.5 391.7M576 408L583 409L590 410L596 411L603 412L610 414L617 415M1290 342L1297 340L1304 338L1311 336L1318 335M583 297L590 298L597 299L603 300L610 301L617 302L624 303M741.9 490.6L746.2 496.1L750.5 501.6M684 389L690 392L696 396L702 399L707 403M586 377L593 378L600 379L607 380L613 382L620 383L627 385M807 402L810 408L814 414L817 421L820 427M803.8 524.7L806.5 531.2L809.1 537.6M1304.6 478.1L1311.4 476.3L1318.1 474.5M717.2 448.3L722.3 453.0L727.5 457.7" fill="none" stroke="#1a6cf0" stroke-width="2.5" opacity="0.7" stroke-linecap="butt"/>
<path d="M797 338L802 344L806 349L810 355L814 361M1225 313L1232 310L1238 307L1244 304L1251 301L1257 299L1264 296L1270 294L1277 292M1230 192L1236 190L1243 189L1250 187L1257 186L1264 184L1271 183L1277 182L1284 181L1291 180L1298 179M1116 180L1122 177L1128 174L1134 171L1141 168L1147 165L1154 162M1270 277L1277 275L1284 274L1291 272L1297 270L1304 269L1311 268L1318 266L1325 265L1332 264L1339 264M962 354L962 361L962 368L962 375L962 382M995.0 298.6L996.2 291.7L997.4 284.8M1098 134L1104 131L1111 129L1117 127L1124 125L1131 123L1138 121L1144 119L1151 118L1158 116L1165 115L1172 114L1179 112M979.7 341.2L980.1 334.2L980.6 327.2M1196 232L1202 229L1209 226L1215 224L1222 221L1229 219L1235 217L1242 215L1249 213L1255 211L1262 209M920 293L922 300L923 307L925 314L926 320M951.7 244.6L952.2 251.5L952.8 258.5M830 336L834 342L837 348L841 354L844 360M1135 203L1141 200L1147 196L1153 193L1160 190L1166 187L1172 184L1179 182L1185 179M792 280L797 285L802 290L807 295L812 300M1054 325L1057 318L1060 312L1063 306L1066 299M680 115L687 116L694 116L701 117L707 118L714 119L721 120L728 121L735 122L742 123L749 125L756 126L763 128L769 129L776 131M1039 164L1044 159L1049 155L1055 150L1060 146M1049 213L1053 208L1058 202L1063 197L1068 192L1073 187L1078 183M1129 264L1135 259L1140 255L1146 251L1152 247L1157 243L1163 239M936 350L937 357L938 364L938 371L939 378M920 181L923 187L926 194L928 200L931 207M1209 224L1216 222L1223 219L1229 217L1236 215L1243 213L1249 211L1256 209L1263 208M1126 187L1132 183L1138 180L1145 177L1151 174L1158 172L1164 169L1171 167L1177 165L1184 162L1191 160L1197 158L1204 156M1233 253L1240 250L1246 248L1253 246L1260 244L1266 242L1273 241L1280 239L1287 237L1293 236L1300 234L1307 233L1314 232M988 131L992 125L996 120L1001 115L1006 110M1225 262L1232 260L1238 257L1245 255L1251 253L1258 250L1265 248M858 116L864 119L870 122L876 126L882 129L888 133L894 137M1125 344L1129 339L1134 333L1138 328L1143 323M565 276L572 276L579 277L586 277L593 278L599 279L606 280L613 281L620 282L627 284L634 285L641 287L647 289L654 290L661 293M848.4 381.1L851.2 387.5L854.0 394.0M1086 168L1092 164L1098 161L1104 157L1110 154L1116 151L1123 148L1129 146L1136 143M880 151L885 156L890 161L895 166L900 171M813.8 280.4L818.4 285.6L823.1 290.8M1106 255L1111 250L1117 245L1122 241L1127 236L1133 232L1139 228M789 122L796 124L803 126L809 128L816 130L823 133L829 135L836 138L842 141M890 293L892 300L895 306L897 313L899 320M708 296L714 299L720 303L726 306L732 310L738 314L743 318M1211 213L1218 210L1225 208L1231 206L1238 204L1245 202L1251 200M1205 212L1211 209L1218 207L1225 205L1231 203L1238 201L1245 199M1090 180L1095 176L1101 172L1108 169L1114 165L1120 162L1126 159M1151 274L1156 270L1162 266L1168 262L1173 258M1137 296L1142 292L1148 287L1153 283L1159 278L1164 274L1170 270M934 139L937 145L940 151L943 158L945 165M1167 299L1173 295L1179 291L1184 287L1190 283M978 285L979 278L979 272L980 265L981 258M1111 235L1116 230L1122 226L1128 222L1133 218M930.9 163.1L933.6 169.6L936.3 176.0M1007 207L1009 200L1013 194L1016 188L1019 182M1080 157L1086 154L1092 150L1099 147L1105 144L1112 142L1118 139L1125 137L1131 134L1138 132L1145 130M1061 339L1064 333L1067 326L1070 320L1074 314M1081 154L1087 150L1093 147L1100 144L1106 141L1112 139L1119 136L1126 134L1132 132L1139 130L1146 128L1152 126L1159 124L1166 123L1173 121L1180 120L1187 119M1060 270L1064 264L1068 258L1072 252L1076 247" fill="none" stroke="#0a4cc4" stroke-width="2" opacity="0.2" stroke-linecap="butt"/>
<path d="M1128 139L1135 137L1141 135L1148 133L1155 131L1162 130L1168 128L1175 127L1182 125L1189 124L1196 123L1203 122L1210 121L1217 120L1224 119L1230 118L1237 117L1244 116L1251 115M1233 212L1240 210L1247 208L1254 206L1260 204L1267 203L1274 202L1281 200L1288 199L1295 198L1302 197L1309 196L1316 195L1323 194L1330 194L1337 193L1344 193L1351 192L1358 192L1365 192L1372 191M669 290L676 292L682 295L689 298L695 300L701 303L708 306M976 184L977 177L978 170L979 163L981 156M538 262L545 262L552 262L559 262L566 262L573 263L580 263L587 264L594 265L601 266L608 267L615 268L622 269L629 270L636 272L643 273L649 275M897 290L899 297L901 303L903 310L905 317M868.9 415.5L871.0 422.2L873.0 428.9M950.5 313.0L951.0 320.0L951.4 327.0M629 228L636 230L643 231L650 233L656 234L663 236L670 238L677 240L683 242L690 244L697 246M864 371L866 378L869 384L871 391L874 397M1084 186L1090 182L1095 178L1101 174L1107 171L1113 167L1120 164L1126 161L1132 158M925 295L926 301L927 308L928 315L930 322M1075 148L1081 145L1087 141L1094 139L1100 136L1107 133L1113 131L1120 129L1127 127L1133 125L1140 123L1147 121L1154 119L1160 118L1167 116M806 319L811 325L815 330L819 336L823 341M633 254L640 255L647 257L653 259L660 261L667 263L673 265L680 267L687 270M1082 231L1087 226L1093 221L1098 217L1103 212L1109 208L1114 203M817 321L821 327L825 333L829 339L833 345M916 282L918 289L919 296L921 303L922 309M1055 141L1061 137L1067 134L1073 131L1080 128L1086 125L1093 123L1099 121L1106 119L1113 116L1119 115L1126 113L1133 111L1140 110L1147 108L1154 107L1160 106M1180 295L1186 291L1192 288L1198 284L1204 281M1029 329L1031 322L1033 316L1036 309L1038 303M1023 199L1027 193L1031 187L1035 181L1039 176M998.8 298.7L1000.2 291.8L1001.5 285.0M669 255L676 257L683 260L689 262L696 265L702 267L709 270M788 330L793 336L797 341L802 346L806 352M982.3 153.0L984.8 146.4L987.3 139.9M1183 191L1190 188L1196 186L1203 184L1210 182L1217 180L1223 178L1230 177L1237 175L1244 173L1251 172L1257 170L1264 169L1271 168L1278 167M671 127L678 127L685 128L692 129L698 130L705 131L712 133L719 134L726 135L733 136L740 138L747 139L753 141M1141 154L1148 151L1154 149L1161 147L1168 145L1174 143L1181 142L1188 140L1195 139L1202 137L1209 136L1215 135L1222 133L1229 132L1236 131L1243 130L1250 129L1257 128L1264 128L1271 127L1278 126M1022 126L1027 122L1033 118L1039 115L1046 112L1052 109L1059 106L1065 104L1072 102M1191 182L1198 180L1204 178L1211 176L1218 174L1225 172L1231 171L1238 169L1245 168L1252 166L1259 165L1266 164L1273 163L1280 162L1286 161L1293 160L1300 159M882 368L884 375L886 382L888 388L890 395M1020 180L1024 174L1028 169L1033 163L1038 158M824.8 351.9L828.4 357.9L832.1 363.9M938.3 267.3L939.3 274.2L940.4 281.1M872 403L874 410L876 416L878 423L880 430M892 287L894 294L897 300L899 307L901 313M963.6 299.1L963.6 306.1L963.7 313.1M899.7 397.0L901.2 403.9L902.6 410.7M1007 192L1010 186L1014 180L1018 174L1021 168M901 184L904 190L908 196L911 202L914 209M640 258L646 260L653 262L660 264L667 266L673 268L680 270M651 281L658 283L665 286L671 288L678 291L684 293L691 296L697 299L703 302M1075 325L1078 319L1082 313L1086 307L1090 301M1005 162L1009 156L1013 150L1017 145L1022 140M914 196L917 202L920 209L922 215L925 222" fill="none" stroke="#ffffff" stroke-width="3" opacity="0.15" stroke-linecap="butt"/>
<path d="M585 377L592 378L599 379L606 380L613 381M785 506L788 513L791 519L794 525L797 532M1290.3 492.2L1296.9 489.9L1303.5 487.6M744 423L749 429L754 434L758 439L763 444M1315 353L1322 351L1329 350L1336 349L1343 348L1350 348L1357 347M687 368L693 372L699 375L705 379L711 383M701 374L707 378L713 382L719 386L724 390M707.4 393.0L713.0 397.1L718.7 401.2" fill="none" stroke="#1a6cf0" stroke-width="2" opacity="0.7" stroke-linecap="butt"/>
<path d="M1061.3 273.6L1062.3 272.0L1063.3 270.4M962.5 257.1L962.5 261.1L962.6 265.0M946.4 423.5L946.5 426.2L946.6 428.8M1118.7 268.8L1122.2 265.6L1125.6 262.4M1191.6 264.7L1193.9 263.5L1196.1 262.2M1239.3 337.7L1243.9 335.5L1248.5 333.3M975.0 350.3L975.2 346.9L975.3 343.5M1099.2 239.1L1102.9 235.6L1106.6 232.2M1018.0 296.1L1018.9 292.8L1019.9 289.5M1030.3 192.9L1031.4 191.3L1032.5 189.7M1056.5 265.1L1057.9 262.8L1059.4 260.4M1233.3 235.9L1237.4 234.4L1241.6 233.0M993.4 272.1L993.8 270.2L994.1 268.3" fill="none" stroke="#00082a" stroke-width="1.5" opacity="0.45" stroke-linecap="butt"/>
<path d="M895 330L897 336L899 343L901 350L903 356M790 106L797 107L804 109L810 110L817 112L824 114L831 116L837 118L844 120L850 122L857 125M824 250L828 255L833 261L838 266L842 271M1062 186L1067 182L1072 177L1078 173L1084 169L1090 165L1096 161L1102 158L1108 154M937 312L937 319L938 326L939 333L940 340M1107 145L1113 143L1120 140L1126 138L1133 136L1140 134L1146 132L1153 130L1160 128L1167 126L1174 125M572 292L579 292L586 293L593 294L599 295L606 296L613 297L620 298L627 300L634 301L641 303M1132 199L1138 195L1144 192L1150 189L1157 186L1163 183L1169 180L1176 178L1183 175M1105 180L1111 176L1117 173L1123 170L1129 167L1136 164L1142 161L1149 158L1155 156L1162 154L1169 151M740.5 309.7L746.2 313.8L751.8 318.0M1204 187L1211 185L1218 183L1225 181L1231 180L1238 178L1245 176L1252 175L1259 174L1266 172L1272 171M609 215L616 216L623 217L630 218L637 220L644 221L651 223L657 224L664 226L671 228L678 229L684 231L691 233L698 236L704 238M1124 182L1130 178L1136 175L1142 172L1149 169L1155 167L1162 164M867 296L870 302L873 308L876 315L879 321M1219 294L1225 291L1232 288L1238 285L1245 282L1251 280L1258 277L1264 275L1271 273M1123 150L1130 148L1136 145L1143 143L1150 141L1156 139L1163 137L1170 135L1177 134M941 176L943 182L945 189L946 196L948 203M830.7 402.7L833.7 409.0L836.7 415.3M1105 189L1111 186L1117 182L1123 179L1129 175L1135 172L1141 169M772 118L779 119L786 121L793 123L800 125L806 127L813 129L820 131L826 134L833 136L839 139M885.6 251.5L888.7 257.8L891.9 264.0M930 190L932 197L934 204L936 210L938 217M1068 125L1075 122L1081 120L1088 117L1095 115L1101 113L1108 111L1115 109L1122 108M1016 124L1022 120L1028 116L1033 113L1040 109M896 133L901 138L906 143L911 148L915 153M1170 239L1176 236L1182 232L1188 229L1195 226L1201 223L1207 221L1214 218L1220 216M979 145L982 139L985 132L988 126L991 120M1178 268L1184 264L1190 261L1197 258L1203 254L1209 251L1215 248M1271 296L1278 294L1284 292L1291 290L1298 288L1305 287L1312 286L1319 284L1325 283L1332 282L1339 281M644 246L651 247L657 249L664 251L671 253L678 255L684 257L691 260L697 262M908 293L910 299L912 306L914 313L916 320M1094 198L1099 194L1105 190L1111 186L1117 182M856 144L862 148L868 152L874 156L879 161L884 165L889 170M933.0 355.1L933.8 362.1L934.7 369.0M889.3 159.8L894.0 165.0L898.8 170.1M783 345L788 351L792 356L797 362L801 367M969 277L969 270L970 264L970 257L970 250M830 325L834 331L837 337L841 343L845 349M1080 190L1086 185L1092 181L1097 177L1103 174L1109 170L1115 166M809 304L814 310L818 315L822 321L826 326M884 331L887 337L889 344L891 351L893 357M899 98L905 101L912 105L917 109L923 113L929 117L934 122M828 118L835 120L841 123L848 126L854 129L860 132L866 135L873 138L878 142M858 384L860 391L863 397L865 404L867 410M592 212L599 213L606 214L613 215L620 216L627 217L634 218L640 219L647 221L654 222L661 224L668 225L675 227M1098 184L1104 180L1110 176L1116 173L1122 170L1129 166L1135 163M1102 155L1108 152L1114 149L1121 146L1127 144L1134 142L1140 139L1147 137L1154 135L1161 134L1167 132L1174 130L1181 129L1188 127L1195 126L1202 125L1209 123M637 268L644 270L651 272L657 274L664 276L671 278L677 280L684 283L690 285M1180 232L1187 229L1193 226L1199 223L1206 221L1212 218L1219 216L1225 213L1232 211M969.5 237.2L969.8 230.2L970.1 223.2M876 231L880 237L883 243L887 249L890 255M958.4 112.9L959.6 119.8L960.8 126.6" fill="none" stroke="#ffffff" stroke-width="2" opacity="0.4" stroke-linecap="butt"/>
<path d="M884 105L890 108L897 111L903 115L908 119L914 123L919 128M971 363L971 356L972 349L972 342L972 335M1151 236L1157 232L1163 228L1169 225L1175 222L1181 218L1187 215M875 320L877 326L880 333L882 339L885 346M1110 172L1116 168L1122 165L1129 162L1135 160L1142 157L1148 155L1155 152L1162 150L1168 148L1175 146L1182 144L1188 142L1195 141L1202 139L1209 138L1216 137M849 134L855 138L861 141L867 145L873 149M901.3 119.5L906.9 123.7L912.4 128.0M854 347L857 353L860 360L863 366L865 372M1146 248L1152 244L1158 240L1164 237L1170 233L1176 230L1182 226M852.9 253.1L856.9 258.8L861.0 264.5M1057.4 264.3L1061.2 258.5L1065.0 252.6M867 218L872 224L876 230L880 235L883 241M1033 172L1038 167L1043 162L1048 157L1053 153M1206 345L1212 341L1218 337L1224 334L1230 330M1086 256L1091 251L1096 246L1101 241L1106 236M884.3 429.2L885.9 436.1L887.6 442.9M801.1 275.7L806.1 280.6L811.0 285.6M659 241L666 243L672 245L679 247L686 249L692 251L699 254M818 315L822 320L826 326L830 332L834 337M901 325L903 332L905 338L907 345L909 352M716 297L722 301L728 304L734 308L739 312L745 316L751 320M1077 318L1080 312L1084 306L1088 301L1092 295M1094 313L1098 307L1102 302L1107 296L1111 291M785 94L792 94L799 95L806 97L813 98L820 99L826 100L833 102L840 104L847 106L854 108L860 110L867 112L873 115L880 118L886 121L892 124L898 128L904 132M799 280L804 285L809 290L814 295L818 300M1201 261L1207 258L1214 255L1220 252L1227 250L1233 247L1240 245L1246 242L1253 240M589 209L596 210L603 211L610 212L617 212L624 214L630 215L637 216L644 217L651 219L658 220L665 222L672 223L678 225L685 227M603 287L610 288L617 289L624 291L631 292L637 294L644 296L651 298L658 300L664 302L671 304M954 117L956 123L957 130L959 137L959 144M934.6 140.7L937.7 146.9L940.7 153.2M1126 160L1133 158L1139 155L1146 153L1152 150L1159 148L1166 146L1172 144L1179 142L1186 141L1193 139L1199 137L1206 136M813 109L820 111L826 113L833 115L840 118L846 120L853 123L859 125L866 128L872 132L878 135M1011.1 123.8L1016.6 119.5L1022.1 115.3M1223 313L1229 310L1236 307L1242 304L1248 302L1255 299L1261 296M883 143L889 147L894 152L899 157L904 162M894 304L896 310L898 317L900 324L902 330M861.5 266.3L865.2 272.2L868.9 278.2M1140 180L1147 177L1153 174L1160 171L1166 169L1173 167L1180 164L1186 162L1193 160L1200 159L1207 157L1213 155L1220 154L1227 152L1234 151L1241 149L1248 148L1255 147L1261 146L1268 145L1275 144M1111 261L1116 256L1121 252L1126 247L1132 243M821 134L827 137L834 140L840 143L846 146L852 150L858 153M620 279L627 281L634 282L641 284L647 286L654 288L661 290M905.9 276.5L908.1 283.2L910.3 289.8M1214 332L1220 328L1227 325L1233 322L1239 319L1245 316L1252 313M1259 263L1266 261L1273 259L1279 258L1286 256L1293 254L1300 253L1307 252L1314 250M1141 192L1147 189L1154 186L1160 183L1166 180L1173 177L1179 175M1286 331L1292 329L1299 327L1306 325L1313 324L1320 322L1327 321L1334 320L1340 319M819 325L823 331L827 337L831 343L835 348M906.9 339.7L908.5 346.5L910.1 353.3M1184 185L1190 182L1197 180L1204 178L1210 176L1217 174L1224 173L1231 171L1237 169L1244 168L1251 166L1258 165L1265 164M633 131L640 132L647 132L654 133L661 134L668 135L675 136L682 136L689 138L696 139L703 140L710 141L717 142L723 144L730 145L737 147L744 148L751 150L757 152M985 347L986 340L987 333L987 326L988 319M925 245L927 252L929 259L930 266L932 272M569 244L576 244L583 244L590 245L597 246L604 247L610 248L617 249L624 250L631 251L638 253L645 254L652 256M1164 164L1171 161L1177 159L1184 157L1191 155L1198 154L1204 152L1211 151L1218 149L1225 148L1232 146L1239 145L1246 144L1253 143L1259 142L1266 141L1273 140M859 342L862 348L864 355L867 361L870 368M1105 248L1111 243L1116 238L1121 234L1127 230L1132 225L1138 221M871 146L877 150L882 155L888 159L893 164M1081.1 275.5L1085.4 270.0L1089.7 264.4M980.0 117.8L984.2 112.2L988.4 106.6M1106 203L1112 199L1118 195L1124 192L1130 188L1136 185L1142 182L1148 178L1155 176M938.5 379.0L939.2 386.0L939.8 393.0" fill="none" stroke="#9ed0ff" stroke-width="1.5" opacity="0.5" stroke-linecap="butt"/>
<path d="M1042 129L1048 125L1054 122L1061 119L1067 116L1074 114L1080 111M1269 324L1276 322L1283 320L1290 318L1296 316L1303 314L1310 312M1208 216L1214 214L1221 212L1228 210L1234 208L1241 206L1248 204L1255 202L1261 201L1268 199L1275 198L1282 196L1289 195L1296 194L1303 193M1152 156L1159 153L1165 151L1172 149L1179 147L1186 146L1192 144L1199 143L1206 141L1213 140L1220 138L1227 137L1234 136L1240 135L1247 134M1069 159L1074 155L1080 151L1087 148L1093 145L1099 142L1106 139L1112 136L1119 134L1125 131L1132 129M1117 346L1121 341L1126 335L1130 330L1135 325L1140 320L1144 315M1199 188L1206 185L1213 183L1219 182L1226 180L1233 178L1240 176L1247 175L1253 174L1260 172L1267 171L1274 170L1281 169L1288 168L1295 167L1302 166L1309 165L1316 165L1323 164M666 265L672 267L679 269L685 272L692 275L698 277L705 280M583 227L590 227L597 228L604 229L611 230L618 231L624 232L631 233L638 235L645 236L652 237L659 239L665 241M870.4 425.4L872.3 432.1L874.3 438.8M797 344L801 349L806 355L810 361L814 366M977.6 117.1L981.6 111.4L985.6 105.6M854 394L857 401L859 407L861 414L864 420M1065 243L1069 237L1074 232L1078 227L1083 222M961 239L961 246L961 253L961 260L961 267M850 170L855 175L860 179L866 184L871 189L876 194L880 199M1005 192L1008 186L1011 180L1015 173L1018 167M1095 171L1102 168L1108 164L1114 161L1120 158M881 200L885 206L889 212L893 218L897 224M1089 207L1094 202L1100 198L1105 194L1111 190M952.6 123.5L954.4 130.3L956.2 137.1M810 224L815 229L821 233L826 238L831 243M753 116L759 117L766 119L773 120L780 122L787 124L793 125L800 127L807 129L814 132L820 134L827 136L833 139L839 142L846 145M1279 323L1286 321L1293 319L1300 317L1307 316L1313 314L1320 313L1327 312L1334 311L1341 310L1348 309M1138 238L1144 234L1150 231L1156 227L1162 224L1168 220L1174 217L1180 214L1187 211M1088 192L1094 188L1099 184L1105 180L1111 176L1117 173L1123 169M1218 234L1225 231L1232 229L1238 227L1245 225L1252 223L1258 221L1265 219L1272 218L1279 216L1286 215M1248 241L1254 239L1261 237L1268 235L1275 233L1281 232L1288 230L1295 229L1302 228L1309 227L1316 225M640 269L647 271L654 273L661 275L667 277L674 279L680 282L687 284L693 287M1027 130L1033 126L1039 123L1045 119L1052 116L1058 113L1064 111L1071 108L1077 106M961.4 374.6L961.5 381.6L961.5 388.6M972 275L972 268L973 261L973 254L973 247M1026 264L1029 257L1031 251L1034 245L1038 238M820.2 388.3L823.5 394.5L826.9 400.6M631 290L638 292L644 294L651 296L658 298L664 300L671 302M873 235L876 241L880 247L884 253L887 259M931.9 192.9L934.0 199.6L936.1 206.3M709 271L715 274L721 277L727 281L733 284M1098 288L1102 283L1107 278L1112 273L1117 268L1122 263L1127 258M847 422L850 428L852 435L854 441L857 448M1003 116L1008 112L1014 108L1020 104L1026 101M1093 342L1097 336L1100 330L1104 324L1108 319M1184 280L1190 276L1196 273L1202 269L1209 266L1215 263L1221 260M843 117L850 120L856 123L862 126L869 129L875 132L881 136M669 272L676 274L682 276L689 279L695 282L701 285L708 288L714 291L720 294M1190 325L1196 321L1202 317L1208 314L1214 310L1220 307L1226 303M891 373L893 380L894 387L896 393L898 400M895 186L899 192L902 197L906 203L909 210M885.1 428.1L886.8 434.9L888.4 441.7M1097 224L1103 220L1108 215L1114 211L1119 207" fill="none" stroke="#9ed0ff" stroke-width="2.5" opacity="0.3" stroke-linecap="butt"/>
<path d="M968.5 137.8L969.4 130.9L970.3 123.9M1202 251L1208 248L1215 245L1221 243L1228 240L1234 238L1241 235L1247 233L1254 231M958.1 180.2L958.5 187.2L959.0 194.2M952 128L954 134L955 141L957 148L958 155M893.3 397.1L895.0 403.9L896.6 410.7M929.1 166.0L931.8 172.4L934.6 178.9M1003 299L1004 292L1006 285L1007 279L1009 272M873 142L878 146L884 151L889 155L894 160M838 408L841 415L844 421L846 428L849 434M743 292L749 296L755 301L760 305L766 309M868 244L872 250L876 256L879 262L883 268M801 130L808 133L814 135L821 138L827 141L834 143L840 146L846 150L852 153M898 162L902 168L906 173L911 179L914 185M931.6 414.1L932.3 421.0L933.0 428.0M706 262L713 265L719 268L725 271L731 275L738 278L744 282M813 378L816 384L820 390L823 396L827 402M889 124L895 128L901 132L906 137L911 141M913.4 395.5L914.5 402.4L915.7 409.3M868 205L872 210L877 216L881 221L885 227M848 406L850 412L853 419L855 426L858 432M811 382L814 388L818 394L821 400L825 406M913.5 282.9L915.4 289.6L917.2 296.4M799 342L803 348L807 353L812 359L816 365M873 113L879 116L885 119L891 123L897 126M1174 169L1181 166L1188 164L1194 162L1201 161L1208 159L1215 157L1221 156L1228 154L1235 153L1242 152L1249 151L1256 149L1263 148L1270 147L1277 146L1284 146L1291 145L1298 144M845 129L851 132L857 135L863 139L869 142L875 146L881 150L886 155L891 159M1289 335L1296 333L1302 332L1309 330L1316 329L1323 327L1330 326M854 157L859 161L865 165L870 169L876 174M1210 285L1217 282L1223 279L1229 276L1236 273M1260 330L1267 328L1274 326L1280 324L1287 321L1294 319L1300 318M825 119L832 121L839 124L845 127L851 130L858 133L864 136L870 139L876 143M926 421L927 428L928 435L929 442L929 449M920.1 227.2L922.3 233.8L924.4 240.5M1266 283L1272 281L1279 279L1286 277L1293 276L1299 274L1306 273L1313 271L1320 270M932.2 307.0L933.3 313.9L934.4 320.8M1139 281L1144 276L1150 272L1155 267L1161 263M893 318L895 325L897 331L899 338L901 345M1262 294L1269 292L1276 290L1282 288L1289 286L1296 285L1303 283L1310 282L1317 281L1324 279L1330 278L1337 277L1344 277M989.9 173.9L992.5 167.3L995.0 160.8M902 137L907 142L911 147L916 153L920 158M958.2 352.7L958.4 359.7L958.5 366.7M938 187L940 193L942 200L943 207L945 214M1086 344L1090 338L1093 332L1097 326L1101 320M1188 181L1195 179L1202 177L1208 175L1215 173L1222 172L1229 170L1236 168L1242 167L1249 165L1256 164L1263 163L1270 162M923 225L925 231L927 238L929 245L930 251M822 303L826 309L830 314L834 320L838 326M844 260L848 266L852 271L856 277L860 283M597 279L604 280L610 281L617 283L624 284L631 286L638 287L645 289L651 291M583 224L590 224L597 225L604 226L611 227L618 228L625 229L632 230L639 231L646 232L653 234" fill="none" stroke="#ffffff" stroke-width="1.5" opacity="0.4" stroke-linecap="butt"/>
<path d="M873 339L875 345L878 352L880 358L882 365M957.7 145.0L958.5 151.9L959.2 158.9M1303 318L1310 317L1317 316L1324 315L1331 313L1338 312L1345 312M1120 187L1126 184L1132 181L1139 177L1145 174M1159 276L1165 272L1171 268L1177 264L1183 260M1129 205L1135 201L1141 198L1148 194L1154 191L1160 188L1167 185L1173 183L1180 180L1186 178L1193 175M944 241L945 248L946 255L947 262L948 269M1118 263L1123 258L1129 254L1134 249L1139 245M1242 325L1248 322L1254 320L1261 317L1267 315L1274 312L1281 310M1046 158L1051 154L1057 149L1063 145L1069 142M1287 311L1294 310L1301 308L1308 307L1315 305L1321 304L1328 303L1335 302L1342 301L1349 300L1356 300M1274 242L1281 241L1288 239L1295 238L1302 236L1308 235L1315 234L1322 233L1329 232L1336 232L1343 231M749 284L755 288L760 293L766 297L771 301M1116 195L1122 191L1128 188L1134 184L1140 181L1147 178L1153 175L1159 172L1166 170M1214 295L1220 292L1227 289L1233 286L1239 284L1246 281L1252 278L1259 276L1266 274M1010.6 184.7L1014.1 178.7L1017.7 172.7M1174 259L1180 256L1186 252L1192 249L1198 246M791 329L795 334L800 340L804 345L809 351M1079 169L1085 166L1091 162L1097 158L1103 155L1109 152L1115 149M708 253L715 255L721 259L727 262L733 265L740 268L746 272M921 293L923 300L924 307L926 314L927 321M1189 222L1195 219L1202 216L1208 214L1215 211L1222 209L1228 207M1278 274L1285 272L1291 271L1298 269L1305 268L1312 267L1319 265M886.4 216.4L890.0 222.4L893.7 228.3M592 259L599 260L606 261L613 262L619 263L626 264L633 266L640 267L647 269M1073 333L1077 327L1080 321L1084 315L1088 309M1197 177L1204 175L1211 173L1217 172L1224 170L1231 168L1238 167L1245 166L1252 164L1259 163L1265 162L1272 161L1279 160L1286 159L1293 158L1300 157L1307 157L1314 156L1321 155L1328 155L1335 154M787 339L792 344L796 350L800 355L805 361M981.0 301.1L981.6 294.1L982.3 287.1M954.7 115.2L956.4 121.6L958.1 127.9M1004.3 135.3L1009.1 130.2L1014.0 125.2M1119 165L1125 162L1131 159L1138 156L1145 154L1151 152L1158 149L1164 147L1171 145L1178 144L1185 142L1192 140L1198 139L1205 137L1212 136L1219 134L1226 133M1223 240L1230 238L1237 236L1243 234L1250 232L1257 230L1263 228L1270 226L1277 224M1242 331L1249 329L1255 326L1262 323L1268 321L1275 318L1281 316M808.6 290.7L813.2 296.0L817.9 301.2M1021 172L1026 167L1031 162L1035 157L1040 152M753 306L758 310L764 315L769 319L774 324M689 285L695 288L701 291L708 295L714 298L720 301L726 305M1033 335L1036 329L1038 322L1040 315L1043 309M921 213L924 219L926 226L928 233L930 239" fill="none" stroke="#0a4cc4" stroke-width="1.5" opacity="0.3" stroke-linecap="butt"/>
<path d="M1266 364L1273 361L1279 359L1286 356L1293 354L1299 352L1306 350M1332 440L1339 439L1346 438L1353 437L1360 437M1268 533L1275 530L1281 527L1287 524L1294 521M1292 446L1299 444L1305 442L1312 440L1319 438M1267 416L1274 413L1280 411L1287 408L1293 406M1286 542L1292 539L1299 537L1306 535L1312 533M1319 372L1326 370L1333 369L1340 368L1347 367M1322.2 515.3L1329.1 514.1L1336.0 512.8M1276 486L1282 484L1289 481L1295 479L1302 476" fill="none" stroke="#000" stroke-width="3" opacity="0.4" stroke-linecap="butt"/>
<path d="M863 405L865 412L867 418L870 425L872 432M946 149L948 156L950 163L951 170L952 176M893.7 323.5L895.8 330.2L898.0 336.9M939 140L942 147L944 153L946 160L948 167M1010 251L1012 244L1014 238L1017 231L1020 225M1155 278L1161 274L1167 270L1172 266L1178 262M551 288L558 288L565 288L572 288L579 289L586 290L593 291L600 292L607 292L614 294L620 295L627 296L634 298L641 300L648 301M906 269L908 276L910 283L913 289L915 296M1084 167L1089 163L1096 160L1102 157L1108 153L1114 150L1121 147M585 207L592 208L598 209L605 209L612 210L619 211L626 212L633 213L640 215L647 216L654 217L661 219L667 220M908 405L909 412L910 419L911 426L912 433M808 273L813 278L818 283L822 288L827 293M1019 272L1022 265L1024 259L1027 252L1030 246M1179 332L1184 328L1190 324L1196 320L1201 316M974 141L976 134L979 128L981 121L984 115M1088 157L1094 153L1100 150L1107 147L1113 145L1120 142L1126 139L1133 137L1139 135L1146 133L1153 131M1245 343L1251 341L1257 338L1264 335L1270 333L1277 330L1284 328L1290 326L1297 324M899 261L902 267L904 274L906 281L909 287M1204 333L1210 329L1216 326L1222 322L1228 319M1256 335L1263 333L1269 330L1276 328L1282 326L1289 324L1296 322L1303 320L1309 319M1090.5 330.7L1094.4 324.9L1098.2 319.0M895 176L899 182L903 187L907 193L910 199M946 270L947 277L947 284L948 291L949 298M907.5 362.2L909.0 369.0L910.5 375.9M1090 333L1094 327L1098 321L1102 315L1106 310M891 369L893 376L895 383L897 390L898 396M1062 184L1067 180L1073 175L1078 171L1084 167M892.5 251.5L895.4 257.9L898.4 264.3" fill="none" stroke="#0a4cc4" stroke-width="2" opacity="0.45" stroke-linecap="butt"/>
<path d="M1267 279L1274 277L1280 275L1287 273L1294 272L1301 270L1308 269L1315 268L1322 266M820.0 349.5L823.8 355.5L827.5 361.4M1041.1 240.3L1044.8 234.4L1048.4 228.4M703 252L710 254L716 257L722 260L729 264L735 267L741 270M678 281L684 284L691 286L697 289L703 292L710 295L716 298M1039 122L1046 119L1052 116L1058 113L1065 110L1072 108L1078 106L1085 104L1092 102L1099 101L1105 99L1112 98L1119 97M1102 146L1109 143L1115 140L1122 138L1128 136L1135 133L1142 131L1148 129L1155 128M814 352L818 358L822 364L825 370L829 376M674 274L681 276L687 279L694 282L700 284L706 287L713 290M732 288L738 291L743 295L749 299L755 303M1072 209L1077 204L1082 200L1088 195L1093 191M880 204L884 210L888 216L892 222L895 228M865 140L871 144L877 148L882 152L888 156M914 114L919 119L924 124L929 129L933 134M1029 327L1032 320L1034 313L1036 307L1039 300M807 218L812 222L818 226L823 231L828 236L833 240L838 245M831 343L834 349L838 355L841 361L844 367M1059 347L1061 341L1064 334L1067 328L1070 322M858 251L862 257L866 263L870 269L873 275M805.2 314.6L809.7 320.0L814.1 325.4M1046 145L1052 141L1058 137L1064 134L1070 130L1076 127L1083 125L1089 122L1096 119L1102 117L1109 115M1254 284L1261 282L1268 280L1274 278L1281 276L1288 274L1295 273L1301 271L1308 270L1315 268L1322 267L1329 266L1336 265M968 320L969 313L969 306L969 299L969 292M750 101L757 102L764 103L770 104L777 105L784 106L791 108L798 109L805 111L812 112L818 114L825 116L832 118L838 120L845 123L852 125L858 128L864 131L870 134L876 138L882 142M1017 332L1019 325L1021 318L1022 312L1024 305M846.0 290.1L849.7 296.0L853.5 301.9M764 98L771 99L778 100L785 101L792 102L799 103L806 104L813 106L819 108L826 109L833 111L840 113L846 115L853 117L859 120L866 123L872 126L878 129L884 133M1146 283L1152 279L1157 275L1163 270L1169 266L1174 262L1180 259M1065 192L1070 188L1075 183L1081 179L1086 175L1092 171L1098 167M852 278L855 284L859 290L863 296L866 302M984.1 189.3L985.9 182.6L987.6 175.8M815 378L819 384L822 390L826 396L829 402M1142 143L1149 141L1155 139L1162 137L1169 136L1176 134L1182 133L1189 131L1196 130L1203 129L1210 127L1217 126L1224 125L1231 124L1238 123L1245 122L1252 122M849.4 363.8L852.4 370.2L855.3 376.5M860 338L863 344L866 351L869 357L871 364M795 339L799 344L804 350L808 355L812 361M565 213L572 213L579 214L586 214L593 215L600 216L607 216L614 217L621 218L628 219L635 221L641 222L648 223L655 225L662 226L669 228L676 230L682 232L689 234M1224 312L1230 309L1236 306L1243 303L1249 300L1256 298L1262 295L1269 293L1275 291M912 258L914 264L916 271L918 278L920 285" fill="none" stroke="#0a4cc4" stroke-width="2" opacity="0.3" stroke-linecap="butt"/>
<path d="M699 428L705 432L710 436L716 441L721 445M627 362L634 364L641 367L647 369L654 371M705.5 432.1L710.9 436.4L716.4 440.8M675 346L681 349L687 352L694 355L700 358M573 339L580 340L587 341L594 342L601 343L608 344L615 345L622 347L628 348M728.7 490.8L733.3 496.1L737.9 501.3M653 351L659 353L666 356L672 359L679 362M804 403L808 409L811 415L815 421L818 427M792 520L795 526L798 532L800 539L803 545M794.8 396.0L798.7 401.8L802.6 407.6" fill="none" stroke="#0a3cc0" stroke-width="1.5" opacity="0.9" stroke-linecap="butt"/>
<path d="M1304 517L1311 515L1317 514L1324 512L1331 511M696 357L702 361L708 365L714 368L720 372M670 337L676 339L683 343L689 346L695 349M1272 486L1279 483L1285 481L1292 478L1298 476M649 377L656 379L662 382L669 385L675 388" fill="none" stroke="#0a3cc0" stroke-width="2" opacity="0.7" stroke-linecap="butt"/>
<path d="M1133 285L1139 280L1144 276L1149 271L1155 267L1161 263L1166 259M719 113L725 114L732 115L739 116L746 117L753 118L760 120L767 121L774 123L780 124L787 126L794 128L801 130L807 132L814 134M932 110L937 115L941 121L945 126L948 133M1169 215L1175 212L1181 209L1188 206L1194 204L1201 201L1207 199L1214 196L1221 194M1180 246L1186 242L1192 239L1199 236L1205 233M1264 265L1271 263L1278 262L1285 260L1292 258L1298 257L1305 255M1074.2 258.1L1078.5 252.6L1082.9 247.1M647 223L654 225L661 227L667 228L674 230L681 232L687 234L694 237L701 239L707 241L714 244M931 296L932 302L933 309L934 316L935 323M905 401L907 408L908 414L909 421L911 428M590 276L597 277L604 278L611 279L618 280L625 282L632 283L639 285L645 286L652 288L659 290M965 179L965 172L965 165L965 158L965 151M604 228L611 229L618 230L625 232L632 233L639 234L645 236L652 237L659 239L666 241L673 242M597 256L604 257L611 258L618 259L625 261L632 262L638 264L645 265L652 267M682 239L689 241L695 244L702 246L708 249L715 252L721 255M946 382L946 389L947 396L947 403L948 410M1038 314L1041 307L1044 301L1046 294L1049 288M922.5 167.4L925.6 173.6L928.7 179.9M576 227L583 227L590 228L596 228L603 229L610 230L617 231L624 232L631 234L638 235L645 236L652 238L658 239L665 241L672 243M764 309L769 314L775 318L780 323L785 328M1233 270L1240 268L1246 265L1253 263L1259 261L1266 259L1273 257M1253 223L1260 222L1267 220L1274 218L1280 217L1287 216L1294 215L1301 213L1308 212L1315 211L1322 210L1329 210L1336 209M1013 280L1015 273L1017 266L1019 260L1022 253M963 177L963 184L963 191L963 198L963 205M1094 287L1098 282L1103 277L1107 271L1112 266M808 302L813 307L817 313L822 318L826 324M588 258L595 259L602 260L609 261L615 262L622 263L629 264L636 266L643 267M1138 269L1143 265L1149 261L1154 256L1160 252M928.6 262.8L930.0 269.7L931.5 276.5M1034 281L1037 274L1040 268L1043 262L1046 255M873 192L877 197L882 202L886 208L890 214M950 295L950 302L951 309L951 316L952 323M1069 218L1074 213L1079 208L1084 203L1090 198L1095 194L1101 190M1110 198L1116 194L1122 190L1128 187L1134 184L1140 180L1147 177L1153 174L1159 172M932.8 422.1L933.4 429.1L934.1 436.1M1025 139L1030 134L1036 130L1042 127L1047 123L1054 119L1060 116M1227 282L1233 279L1240 276L1246 274L1253 272L1260 269L1266 267L1273 265L1280 263M976 217L976 210L977 204L978 197L979 190M819 323L823 328L827 334L831 340L834 346M896 348L898 355L900 361L902 368L903 375M946.8 528.9L947.1 535.9L947.3 542.9M1070 244L1075 239L1079 234L1084 228L1089 223M1196 288L1202 285L1208 281L1214 278L1220 275L1227 272L1233 269L1240 267L1246 264M897 113L903 117L909 121L914 125L920 130M1170 288L1176 284L1182 280L1188 276L1194 273M1083.5 284.8L1087.8 279.2L1092.0 273.6M1043 124L1049 120L1055 117L1062 115L1068 112L1075 110L1082 108L1088 106L1095 104L1102 103L1109 101L1115 100L1122 98L1129 97L1136 96M1257 280L1264 278L1270 276L1277 274L1284 272L1291 271L1297 269" fill="none" stroke="#9ed0ff" stroke-width="1.5" opacity="0.3" stroke-linecap="butt"/>
<path d="M739.0 480.5L743.4 485.9L747.9 491.3M783.3 455.3L786.7 460.8L790.0 466.4M1303 442L1310 441L1317 439L1324 437L1330 436M1282.3 486.7L1288.8 484.2L1295.3 481.6M727.5 368.2L733.0 372.6L738.4 377.0M770 405L775 410L779 416L783 421L787 427M603 371L609 373L616 374L623 376L630 378M732.0 429.3L737.0 434.2L741.9 439.2M1324 478L1331 477L1338 476L1345 475L1352 474M1280.6 446.3L1287.1 443.8L1293.7 441.3M1291 383L1297 381L1304 379L1311 378L1318 376L1325 375L1332 373M1328 484L1335 483L1342 482L1349 481L1356 480L1363 480L1370 480M644 297L651 299L657 301L664 303L671 305" fill="none" stroke="#1a6cf0" stroke-width="2" opacity="0.5" stroke-linecap="butt"/>
<path d="M882 402L884 408L886 415L887 422L889 429M1097 343L1101 337L1105 331L1109 325L1114 320M923 380L924 386L925 393L926 400L927 407M967 373L967 366L968 359L968 352L968 345M1239 234L1246 232L1252 230L1259 228L1266 226L1273 224L1280 223L1286 222L1293 220L1300 219L1307 218L1314 217L1321 216L1328 215L1335 215L1342 214L1349 213L1356 213L1363 213L1370 212L1377 212M1012 204L1015 197L1018 191L1022 185L1026 179M1068 219L1072 214L1077 209L1082 204L1088 199M1071 343L1074 336L1078 330L1081 324L1084 318M923 317L924 324L926 330L927 337L928 344M870 202L874 208L879 213L883 219L887 225M912.6 309.3L914.3 316.1L916.0 322.9M1224 244L1230 242L1237 239L1243 237L1250 235L1257 233L1263 231L1270 229L1277 227M1196 214L1202 212L1209 209L1215 207L1222 205L1229 203L1236 201L1242 199L1249 197L1256 195L1263 194L1270 192L1276 191M653 236L660 238L666 240L673 242L680 244L686 246L693 249M1145 227L1151 223L1157 220L1163 216L1170 213L1176 210L1182 207L1189 204L1195 202M584 280L591 281L598 282L604 283L611 284L618 285L625 287L632 288L639 290M1199 315L1205 311L1211 308L1217 305L1224 301L1230 298L1236 295M588 245L595 246L602 247L609 248L616 249L623 250L629 252L636 253L643 254L650 256L657 258M963 416L963 423L963 430L963 437L963 444M754 286L759 290L765 295L770 299L776 303M549 278L556 278L563 278L570 279L577 279L584 280L591 280L598 281L605 282L612 283L618 284L625 286L632 287L639 289L646 291M907.8 288.0L909.8 294.7L911.8 301.4M872 264L876 270L879 276L882 282L885 289M786.4 323.7L791.1 328.9L795.9 334.0M861 298L864 304L867 310L870 317L873 323M1110 284L1115 279L1120 274L1125 269L1130 264M922 362L924 368L925 375L926 382L927 389M913.0 412.2L914.1 419.1L915.2 426.0" fill="none" stroke="#0a4cc4" stroke-width="3" opacity="0.45" stroke-linecap="butt"/>
<path d="M657 401L663 403L669 407L675 410L682 413M710 397L715 402L721 406L726 410L732 415M627 347L634 349L641 351L647 354L654 356L660 358L667 361M760 445L765 451L769 457L773 462L777 468M699 407L705 411L711 415L716 419L722 423M796.8 440.3L800.2 446.4L803.7 452.5M725.7 450.7L730.6 455.5L735.4 460.2M697 405L703 409L709 414L714 418L720 422M754.0 522.5L757.7 528.4L761.5 534.3M741 383L746 388L751 393L756 398L761 403M619 372L626 373L633 375L639 378L646 380L653 382L659 385M730 437L735 442L740 447L745 452L749 457M624 364L630 366L637 368L644 370L650 373M658 400L664 403L670 406L677 410L683 413M863.5 521.0L865.0 527.4L866.4 533.8M785.1 532.9L788.1 539.2L791.0 545.6M762.1 528.0L765.5 533.8L768.8 539.6M752 370L757 375L762 380L767 385L771 391M805 382L808 388L812 394L816 400L819 406M792.0 373.5L795.8 378.6L799.5 383.7M792.3 473.2L795.5 479.4L798.8 485.6M852 445L854 452L856 459L858 465L860 472M711.5 348.7L717.4 352.6L723.2 356.5" fill="none" stroke="#000" stroke-width="1.5" opacity="0.7" stroke-linecap="butt"/>
<path d="M1069.2 267.9L1070.3 266.3L1071.4 264.7M988.5 208.5L989.0 206.7L989.4 204.9M1068.1 235.9L1070.4 233.1L1072.7 230.3M1130.1 283.7L1132.4 281.5L1134.8 279.4M1171.5 290.0L1174.4 287.9L1177.3 285.9M1022.2 266.7L1023.2 264.0L1024.2 261.3M1016.3 275.7L1017.0 273.4L1017.8 271.0M974.5 402.6L974.6 400.9L974.6 399.2M1082.8 282.7L1084.7 280.1L1086.6 277.6M1132.6 303.0L1134.7 300.9L1136.7 298.9M1185.9 283.1L1189.6 280.9L1193.2 278.7M1199.5 286.2L1201.6 285.1L1203.7 283.9M1157.9 238.6L1161.0 236.7L1164.1 234.8M941.0 393.1L941.2 395.5L941.4 398.0" fill="none" stroke="#00082a" stroke-width="2" opacity="0.45" stroke-linecap="butt"/>
<path d="M823 366L826 372L830 378L833 384L836 390M941 258L942 265L943 272L944 279L945 286M906.3 179.9L909.9 185.8L913.6 191.8M979 124L983 118L987 113L992 107L997 103M595 214L602 215L609 216L616 217L623 218L630 219L637 220L644 222L651 223L658 225L664 226L671 228L678 230L685 232L691 234M1217 201L1224 199L1230 197L1237 196L1244 194L1251 192L1257 191L1264 189L1271 188L1278 187L1285 186L1292 185L1299 184L1306 183L1313 182L1320 181L1327 180L1334 180L1341 179M1018 280L1020 273L1023 266L1025 260L1028 253M1044.4 329.5L1047.0 323.0L1049.6 316.5M1212 332L1218 328L1224 325L1230 321L1236 318M559 252L566 253L573 253L580 254L587 254L594 255L600 256L607 257L614 258L621 259L628 260L635 262L642 263L649 265L655 266M846 122L853 125L859 128L865 132L871 135L877 138L883 142M1127 178L1133 175L1139 172L1146 169L1152 166L1159 164L1165 161M867 387L869 393L871 400L874 407L876 413M1084 181L1090 177L1095 173L1101 169L1107 166L1114 162L1120 159M1132 315L1137 310L1142 305L1147 300L1152 296M1087 165L1093 162L1099 158L1106 155L1112 152L1118 149L1125 146M1112 188L1118 185L1124 181L1130 178L1137 175L1143 172L1149 170L1156 167L1162 164L1169 162L1176 160L1182 157L1189 155M988.9 149.7L992.1 143.5L995.4 137.3M831 275L836 280L840 286L844 291L848 297M1215 181L1221 180L1228 178L1235 176L1242 175L1249 173L1256 172L1262 171L1269 169L1276 168L1283 167L1290 166L1297 165M658 236L665 238L671 240L678 242L685 244L691 246L698 248M904.8 255.7L907.3 262.3L909.7 268.8M798 302L803 307L808 312L812 318L817 323M841 290L845 296L849 302L852 307L856 313M1041.1 259.8L1044.5 253.6L1047.8 247.5M926 224L928 231L929 238L931 245L933 251M1065 192L1070 187L1076 183L1081 178L1087 174L1093 170L1098 166M708 284L714 287L720 291L726 294L732 298M646 272L653 274L660 276L667 278L673 281M1140 166L1146 163L1153 161L1159 158L1166 156L1173 154L1179 152L1186 150L1193 148L1200 147L1206 145L1213 144L1220 142L1227 141L1234 140M903 278L905 285L907 291L909 298L911 305M585 253L592 253L598 254L605 255L612 256L619 257L626 258L633 260L640 261M819 389L822 395L825 401L829 408L832 414M1071 192L1076 187L1082 183L1087 179L1093 175M1130 145L1137 143L1144 141L1150 139L1157 137L1164 135L1171 134L1177 132L1184 131L1191 129L1198 128L1205 127L1212 125L1219 124L1226 123L1233 122L1240 121M1231 312L1238 309L1244 306L1250 303L1257 301L1264 298L1270 296L1277 294L1283 292M1066 156L1072 152L1078 148L1084 145L1090 142L1096 139L1103 136L1109 133L1116 131L1122 129L1129 126M711 297L717 301L723 304L729 308L735 312M982 175L984 168L986 161L988 155L991 148M939.0 355.6L939.7 362.6L940.4 369.5M936 419L936 426L937 433L938 440L938 447M1214 192L1221 190L1227 188L1234 187L1241 185L1248 183L1255 182L1261 180L1268 179L1275 178L1282 177M606 264L613 265L620 266L627 268L634 269L641 271L647 272L654 274L661 276M1078 187L1084 183L1089 179L1095 175L1101 171L1107 167L1113 164M1169 165L1176 163L1182 161L1189 159L1196 157L1203 155L1209 154L1216 152L1223 151L1230 149L1237 148L1244 147L1251 146" fill="none" stroke="#ffffff" stroke-width="3" opacity="0.4" stroke-linecap="butt"/>
<path d="M616 217L623 218L630 219L637 220L644 221L651 223L657 224L664 226L671 228L678 230L684 232M1044 147L1050 142L1056 139L1062 135L1068 131M1308 321L1315 320L1322 319L1329 318L1336 317L1343 316L1350 315L1357 315L1364 314M826 300L830 306L834 312L838 318L842 323M1105 168L1111 164L1118 161L1124 158L1130 156L1137 153L1143 151L1150 148L1157 146L1163 144L1170 142L1177 140L1184 139L1190 137L1197 136L1204 134L1211 133M908.1 299.6L910.0 306.4L911.9 313.1M928 339L929 346L930 353L931 360L932 366M924 391L925 398L926 405L926 412L927 419M1061 240L1065 235L1070 229L1075 224L1079 219L1084 214L1089 209M818 390L821 396L825 403L828 409L831 415M677 279L683 281L690 284L696 287L703 290M667 247L674 249L680 251L687 254L694 256L700 259L707 261L713 264L719 267M1040 183L1045 178L1050 173L1055 169L1060 164L1065 160L1071 155M1132 142L1139 139L1146 137L1152 135L1159 134L1166 132L1173 130L1180 129L1186 128L1193 126L1200 125L1207 124L1214 123L1221 122L1228 121L1235 120L1242 119M825 361L829 367L832 373L835 380L839 386M1211 189L1217 187L1224 185L1231 183L1238 182L1245 180L1251 179L1258 177L1265 176L1272 175L1279 174L1286 173L1293 172L1300 171L1307 170L1314 169L1321 168M821 254L826 259L831 264L835 269L840 275M955.2 121.2L956.7 128.0L958.2 134.8M933 133L936 139L939 145L942 151L945 158M889 167L894 172L898 177L902 183L906 189M895 178L899 183L903 189L906 195L910 201M702 253L708 256L715 259L721 262L727 265L734 268L740 272M1147 180L1153 178L1159 175L1166 172L1172 170L1179 168L1186 165L1192 163L1199 161M796 350L800 355L804 361L809 367L813 372M1061.8 337.4L1064.8 331.1L1067.8 324.8M943.9 231.0L944.9 237.9L945.9 244.8M675 250L681 252L688 254L694 257L701 259L707 262L714 265M608 235L615 236L622 237L629 239L636 240L643 242L649 243L656 245L663 247L670 248L677 251L683 253L690 255M760 115L767 116L774 118L781 119L788 121L794 123L801 124L808 126L814 129L821 131L828 133L834 136L840 139M846.6 371.3L849.6 377.7L852.5 384.0M591 229L598 230L605 231L612 231L619 233L626 234L633 235L640 236L646 238L653 239L660 241M778 118L784 120L791 121L798 123L805 125L811 127L818 130L824 132L831 135L837 138L844 140L850 144L856 147L862 151L868 155M1077 146L1084 143L1090 140L1096 137L1103 134L1109 132L1116 130L1123 128L1129 126L1136 124L1143 122L1150 120L1157 119L1163 117L1170 116L1177 115L1184 114L1191 113L1198 112L1205 111L1212 110M683 290L689 293L696 296L702 299L708 302L714 305L721 309M761 314L766 318L771 323L776 328L781 333M931 126L935 132L939 138L942 144L945 151" fill="none" stroke="#ffffff" stroke-width="3" opacity="0.25" stroke-linecap="butt"/>
<path d="M714 138L721 139L727 140L734 142L741 144L748 145L754 147L761 149L768 151L775 154L781 156L788 158L794 161L801 164L807 167M854 181L859 186L864 190L869 195L874 200" fill="none" stroke="#bfe0ff" stroke-width="1.5" opacity="0.25" stroke-linecap="butt"/>
<path d="M1002.2 291.9L1002.8 289.0L1003.4 286.2M1153.4 337.4L1155.3 335.6L1157.1 333.7M1248.7 293.5L1253.7 291.6L1258.7 289.7M1047.3 254.4L1048.3 252.6L1049.3 250.9M995.4 310.1L995.7 308.5L995.9 306.9M1052.5 257.2L1054.2 254.4L1055.9 251.6M1132.8 254.5L1136.1 251.8L1139.4 249.2M1105.7 225.3L1109.6 222.1L1113.4 219.0M1134.9 206.8L1139.2 204.2L1143.5 201.7M1259.2 336.9L1262.8 335.5L1266.4 334.1M1062.9 322.4L1063.8 320.7L1064.6 319.1M1012.6 317.9L1013.5 314.2L1014.3 310.5M1092.7 249.8L1095.2 247.1L1097.7 244.4M1079.7 312.4L1081.4 309.5L1083.2 306.7M1017.9 212.9L1019.4 209.9L1020.9 206.9M958.2 393.1L958.3 396.9L958.3 400.6M1005.5 215.3L1006.1 213.8L1006.7 212.3M1003.0 210.8L1003.7 208.7L1004.5 206.6M1256.0 330.5L1258.3 329.5L1260.7 328.6M1260.0 249.7L1264.5 248.4L1269.1 247.0M1256.6 206.4L1261.8 205.2L1267.0 204.0M994.9 242.6L995.5 239.7L996.2 236.9" fill="none" stroke="#00082a" stroke-width="1.5" opacity="0.75" stroke-linecap="butt"/>
<path d="M670 409L677 412L683 416L689 419L695 423M800 501L803 507L805 514L808 520L811 527M710 420L716 424L721 429L726 433L732 438M716.5 424.8L721.7 429.3L726.9 433.7M789.2 535.8L792.0 542.2L794.9 548.6M874.1 477.7L875.7 484.4L877.2 491.1M891 539L892 545L893 552L894 559L895 566M765.8 521.6L769.3 527.7L772.8 533.8M885.1 548.0L886.2 554.9L887.3 561.8M787.0 466.2L790.2 471.7L793.3 477.3M697 418L702 422L708 426L714 430L719 435M738 428L743 433L748 438L753 443L757 448M715 332L721 336L727 340L733 344L738 348M709.7 421.6L715.2 426.0L720.7 430.4M787.8 546.8L790.4 552.9L793.1 559.0M612 404L619 406L625 408L632 409L639 412M739 479L744 485L748 490L752 496L756 501M629 337L636 339L642 341L649 343L656 346L662 348L669 351M600 370L607 372L613 373L620 375L627 377L634 378L641 380M610 347L617 349L624 350L631 352L637 354M735.4 394.9L740.3 399.4L745.2 404.0" fill="none" stroke="#000" stroke-width="2" opacity="0.7" stroke-linecap="butt"/>
<path d="M666 137L673 138L680 139L687 140L694 141L701 142L708 144L714 145L721 147L728 148L735 150L742 152L748 154L755 155L762 158L768 160L775 162L782 165L788 167L794 170L801 173M782 138L789 141L795 143L802 145L808 148L814 151L821 154L827 157L833 160L839 164L845 168" fill="none" stroke="#8fc6fb" stroke-width="3" opacity="0.4" stroke-linecap="butt"/>
<path d="M1316 435L1323 433L1330 432L1337 431L1343 430M1314 445L1320 444L1327 443L1334 441L1341 440L1348 439L1355 439M880.6 514.5L881.9 521.4L883.2 528.3M823 426L826 432L829 439L832 445L835 452M640 353L647 355L653 357L660 360L667 362M593 347L600 348L607 349L614 350L621 352M734.2 352.0L739.7 356.4L745.1 360.8" fill="none" stroke="#0e50dc" stroke-width="2" opacity="0.7" stroke-linecap="butt"/>
<path d="M1240 237L1246 235L1253 233L1260 231L1267 229L1273 227L1280 226L1287 224L1294 223L1301 222L1308 221L1315 220L1322 219L1329 218L1335 217L1342 217L1349 216M1121 187L1128 184L1134 181L1140 178L1146 175L1153 172L1159 170L1166 167L1173 165L1179 162L1186 160L1193 158L1199 156M957 323L957 330L958 337L958 344L958 351M1271 322L1278 320L1285 318L1292 316L1298 314L1305 312L1312 311M810 320L815 326L819 332L823 337L827 343M968 383L968 376L968 369L968 362L968 355M1163 204L1169 201L1176 198L1182 196L1189 193L1195 191L1202 188L1209 186L1215 184L1222 182L1229 180L1236 179L1242 177L1249 175L1256 174M568 257L575 258L582 258L589 259L596 260L603 261L610 262L617 263L624 264L630 265L637 267M1248 345L1254 342L1261 340L1267 337L1274 335L1281 332L1287 330L1294 328L1301 326M1019 330L1020 323L1022 316L1024 310L1026 303M902.7 405.6L904.1 412.5L905.4 419.4M951 507L951 514L952 521L952 528L952 535M1139 147L1146 145L1153 143L1159 141L1166 139L1173 137L1180 136L1187 134L1194 133L1200 131L1207 130L1214 129L1221 128L1228 127L1235 126L1242 125L1249 124M1010.4 128.0L1015.7 123.5L1021.1 119.0M863 184L868 189L872 195L877 200L882 205M1169 268L1175 264L1181 261L1187 257L1194 254L1200 250L1206 247M1162 204L1169 201L1175 199L1182 196L1188 193L1195 191L1201 189L1208 186L1215 184L1221 182L1228 180L1235 179L1242 177M1066 173L1071 169L1077 165L1083 161L1088 157M707 249L714 252L720 255L726 258L732 262L738 265L745 268L751 272L756 276M878.3 185.8L882.8 191.1L887.3 196.5M914 234L917 241L919 247L921 254L923 261M979 208L980 201L981 194L983 187L984 180M838 397L841 403L843 410L846 416L849 423M1020 144L1025 139L1031 135L1036 131L1042 127L1048 123L1054 119M919.5 272.3L921.2 279.1L922.9 285.9M1128 169L1134 166L1141 163L1147 161L1154 158L1160 156L1167 154L1174 151L1180 149M1085 184L1091 180L1096 176L1102 172L1108 169L1115 165L1121 162L1127 159L1133 156M818 291L822 296L827 302L831 308L835 313M737 306L743 310L748 314L754 318L759 323M1268 212L1274 211L1281 209L1288 208L1295 207L1302 206L1309 205L1316 204L1323 203L1330 202L1337 202M672 120L679 121L686 122L693 122L700 123L707 124L714 125L721 127L728 128L735 129L742 130L748 132L755 133L762 135L769 136M908.7 423.7L909.9 430.6L911.0 437.5M807 295L811 300L816 305L820 311L825 316M1028 200L1032 195L1036 189L1041 184L1045 178L1050 173L1055 168M1061 124L1067 121L1074 118L1080 116L1087 114L1094 112L1100 110L1107 108L1114 106M881 223L885 229L888 235L892 241L895 248M822.1 297.2L826.3 302.7L830.6 308.3M808 360L812 366L816 372L819 378L823 384M959.4 131.6L960.1 138.6L960.8 145.5M943.1 334.2L943.7 341.2L944.3 348.2M906 113L912 117L917 121L922 126L927 131L931 137L935 143M636 230L643 231L650 233L657 235L664 236L670 238L677 240L684 242L690 245L697 247L703 250M919 239L921 246L923 252L925 259L926 266M1107 276L1112 271L1117 266L1122 261L1127 257L1133 252L1138 248M1103 204L1109 200L1114 196L1120 193L1126 189L1132 186L1139 182L1145 179L1151 176M789 338L794 343L798 348L803 354L807 359M944 250L945 257L946 264L947 271L947 278M1168 187L1174 184L1181 182L1187 179L1194 177L1201 175L1207 173L1214 171L1221 169L1228 168L1234 166M891 236L894 242L897 249L900 255L903 261M787 124L794 125L801 127L807 130L814 132L821 135L827 137L834 140L840 143L846 146L852 149M538 272L545 272L552 272L559 272L566 272L573 272L580 273L587 274L594 274L601 275L608 276L615 277L621 278L628 280L635 281L642 283L649 285M1006.3 319.5L1007.8 312.6L1009.3 305.8M1264 306L1270 303L1277 301L1284 299L1291 298L1297 296L1304 294L1311 293L1318 291M651 269L658 271L665 273L671 275L678 278L684 280L691 283L697 285L704 288M1143 180L1149 177L1156 174L1162 171L1169 169L1175 167L1182 165L1189 163L1196 161L1202 159L1209 157L1216 155L1223 154L1230 152L1236 151L1243 150L1250 149M1154 184L1160 181L1166 179L1173 176L1180 174L1186 172L1193 169L1200 167L1206 165L1213 164L1220 162M828 393L831 399L834 406L837 412L840 418M1271 312L1278 310L1285 308L1292 306L1298 304L1305 303L1312 301L1319 300L1326 299L1333 298L1340 297" fill="none" stroke="#ffffff" stroke-width="2" opacity="0.15" stroke-linecap="butt"/>
<path d="M1054.5 207.8L1055.6 206.5L1056.7 205.1M1280.7 289.9L1284.7 288.8L1288.7 287.7M1211.7 254.7L1215.6 253.0L1219.5 251.2M1166.4 223.2L1171.0 220.8L1175.6 218.4M1193.1 225.8L1198.0 223.6L1202.9 221.5M1280.6 270.9L1283.3 270.2L1286.0 269.5M939.9 429.0L940.1 431.2L940.3 433.3M971.5 319.2L971.6 316.1L971.7 313.0M1178.2 247.0L1182.8 244.5L1187.4 242.0M950.1 341.2L950.3 344.7L950.5 348.3M1062.4 204.5L1064.7 202.1L1067.1 199.6M1068.4 314.1L1069.8 311.6L1071.1 309.1M1156.0 276.5L1160.0 273.5L1164.0 270.6M1214.1 338.7L1218.5 336.0L1222.9 333.4M1052.4 266.7L1054.4 263.3L1056.4 259.9M1141.9 299.9L1143.5 298.5L1145.1 297.0M1152.6 192.3L1156.7 190.3L1160.7 188.4" fill="none" stroke="#00082a" stroke-width="2" opacity="0.75" stroke-linecap="butt"/>
<path d="M874.9 507.2L876.3 514.1L877.8 520.9M779.5 480.5L783.0 486.6L786.5 492.6M813.0 472.1L815.8 478.5L818.6 484.8M776.5 405.2L780.3 410.3L784.1 415.3M727 493L732 498L736 504L741 509L745 514M739 332L744 336L750 341L755 345L760 350M1316 451L1323 449L1330 448L1337 447L1344 446M1291.5 555.6L1297.7 553.4L1304.0 551.1M1308 445L1315 443L1321 442L1328 441L1335 439M1278 471L1285 468L1291 466L1298 463L1304 461M817.1 509.9L819.1 515.3L821.2 520.8" fill="none" stroke="#1a6cf0" stroke-width="2.5" opacity="0.5" stroke-linecap="butt"/>
<path d="M938 339L939 346L940 353L940 360L941 367M1112 268L1117 263L1122 258L1127 254L1132 249M1267 317L1274 315L1281 313L1287 311L1294 309L1301 308L1308 306L1315 305L1322 303L1328 302L1335 301M1200 288L1206 285L1212 281L1219 278L1225 275L1231 272L1238 270M1207 207L1214 204L1220 202L1227 200L1234 198L1241 196L1247 194M699 294L705 297L711 300L717 303L723 307L729 310L735 314M1299 324L1306 322L1313 321L1320 320L1327 318L1334 317L1341 316L1348 316L1354 315M1280 234L1287 232L1294 231L1301 230L1307 229L1314 228L1321 227L1328 226L1335 225L1342 224L1349 224M1144 260L1150 255L1155 252L1161 248L1167 244M1103 334L1107 328L1111 323L1115 317L1120 312M911 235L913 241L915 248L918 254L920 261M758.0 317.2L763.3 321.8L768.7 326.3M818 276L823 281L827 286L832 292L836 297M1039.8 339.2L1042.1 332.6L1044.5 326.0M944 146L946 153L948 160L950 167L951 173M901.0 376.2L902.5 383.0L904.1 389.9M950 413L950 420L951 427L951 434L951 441M1020.7 232.7L1023.7 226.4L1026.8 220.1M1066 306L1069 300L1073 294L1076 288L1080 282M964.6 150.4L964.6 143.4L964.6 136.4M975 303L976 296L976 289L977 282L977 275M977 154L979 148L981 141L983 134L986 128M1049 278L1053 272L1056 266L1060 260L1063 254M1123 329L1128 324L1133 319L1137 313L1142 308M841 274L845 280L849 286L853 292L856 298M917.0 345.7L918.3 352.6L919.7 359.5M1133 273L1138 268L1144 264L1149 260L1155 256M963.1 323.7L963.2 330.7L963.2 337.7M915.3 306.0L916.9 312.8L918.5 319.6M974 378L975 371L975 364L975 357L976 350M984 350L984 343L985 336L986 329L986 322M1022 125L1028 122L1034 118L1040 115L1046 112L1053 109L1059 106L1066 104L1073 102M1176 201L1183 198L1189 195L1196 193L1203 191L1209 188L1216 186L1223 185L1229 183L1236 181L1243 179L1250 178L1257 176L1264 175L1270 174L1277 173L1284 171M992.1 331.0L993.0 324.1L993.9 317.2M913.7 389.7L914.9 396.6L916.0 403.5M838 284L842 290L846 296L850 301L853 307M902.2 146.0L906.8 151.2L911.5 156.4M788 106L795 108L802 109L809 111L816 112L822 114L829 116L836 119L842 121L849 123L855 126L862 129L868 132L874 136L880 139M652 262L659 264L665 266L672 268L679 271L685 273L692 275L698 278L705 281M977 425L978 418L978 411L978 404L979 397M1289 334L1296 333L1302 331L1309 329L1316 328L1323 327L1330 325L1337 324L1344 323M1067 126L1074 123L1080 120L1087 118L1094 116L1100 114L1107 112L1114 110L1121 109L1128 107L1134 106L1141 105L1148 103L1155 102L1162 101L1169 100L1176 99L1183 99L1190 98M1196 189L1203 187L1210 185L1216 183L1223 181L1230 179L1237 178L1243 176L1250 175L1257 173L1264 172L1271 171L1278 170L1285 169L1292 168L1299 167L1306 166L1313 165L1320 165M858 173L863 177L868 182L873 187L878 192M1016 228L1019 222L1022 216L1025 209L1029 203M918 361L919 368L921 375L922 382L923 388M1156 294L1161 290L1167 286L1172 282L1178 278L1184 274L1190 270M944 289L945 296L945 303L946 310L947 317" fill="none" stroke="#9ed0ff" stroke-width="2.5" opacity="0.5" stroke-linecap="butt"/>
<path d="M1115.2 215.9L1117.0 214.5L1118.9 213.1M1011.7 198.9L1013.4 195.6L1015.1 192.3M1229.9 227.1L1233.4 225.8L1237.0 224.6M1004.2 232.9L1005.3 229.6L1006.4 226.3M1110.7 208.7L1114.8 205.7L1118.9 202.8M1261.2 336.5L1265.2 334.9L1269.2 333.4M939.7 351.8L940.0 355.4L940.4 359.0M1182.7 200.6L1187.8 198.5L1192.8 196.5M1131.6 331.4L1133.6 329.2L1135.5 327.0M950.7 388.8L950.8 391.8L951.0 394.7M1166.8 306.5L1169.6 304.3L1172.3 302.2M1157.9 338.0L1160.4 335.7L1162.8 333.4M1057.9 273.5L1059.2 271.3L1060.4 269.1M1159.4 222.6L1161.4 221.4L1163.5 220.3M1256.2 313.8L1259.7 312.5L1263.1 311.1M1139.9 245.1L1142.9 242.9L1146.0 240.7M1240.1 314.8L1243.8 313.1L1247.6 311.4M970.9 293.3L971.0 291.6L971.0 289.9M1268.0 314.9L1270.8 313.9L1273.5 313.0M1037.8 228.6L1038.9 226.7L1040.0 224.9M1224.7 307.6L1228.4 305.7L1232.0 303.9M1045.9 284.7L1047.5 281.6L1049.0 278.5M976.3 277.3L976.5 274.7L976.7 272.0" fill="none" stroke="#00082a" stroke-width="2.5" opacity="0.6" stroke-linecap="butt"/>
<path d="M1304.0 509.3L1310.6 507.4L1317.2 505.6M763.9 485.1L767.7 491.0L771.6 496.8M1323 518L1330 517L1337 515L1344 515L1351 514L1358 513L1365 513M717.9 478.7L722.8 483.7L727.8 488.6M776.8 507.5L780.1 513.7L783.5 519.9M666.9 433.2L673.0 436.5L679.1 439.9M1287.6 543.7L1293.6 541.5L1299.6 539.2M606 319L613 321L620 322L627 324L634 326L640 327L647 329M1294 466L1300 463L1307 461L1314 460L1321 458M685 319L691 322L697 325L704 328L710 331M816.4 423.3L819.5 429.4L822.6 435.6M1323.1 511.8L1330.0 510.6L1336.9 509.3" fill="none" stroke="#0a3cc0" stroke-width="2.5" opacity="0.5" stroke-linecap="butt"/>
<path d="M1313 355L1320 353L1327 352L1334 351L1341 350L1348 349L1355 349M587 349L594 350L600 352L607 353L614 354L621 356L628 357M1324.9 471.5L1331.8 470.3L1338.7 469.1M645 418L652 421L658 424L664 427L671 430M671 433L677 437L683 440L689 444L695 448M592 337L599 338L606 340L612 341L619 342M668 421L675 424L681 428L687 431L693 435M740.9 409.3L745.8 414.3L750.7 419.2M767 452L771 458L775 463L779 469L782 475M1335 528L1342 527L1349 526L1356 526L1363 525L1370 525L1377 525M749 451L753 457L758 462L762 468L766 473" fill="none" stroke="#0e50dc" stroke-width="2.5" opacity="0.9" stroke-linecap="butt"/>
<path d="M640 180L647 181L654 182L661 184L668 185L674 187L681 188L688 190L695 192L702 193L708 195L715 197L722 200M823 185L828 189L834 193L840 197L845 202M826 198L831 203L836 207L842 212L847 216" fill="none" stroke="#bfe0ff" stroke-width="2" opacity="0.25" stroke-linecap="butt"/>
<path d="M767 423L772 429L776 435L780 440L784 446M786.8 454.3L790.4 460.3L793.9 466.3M706 335L712 339L718 343L724 347L730 351M709 397L715 401L720 405L726 410L731 414M674 331L681 334L687 337L693 340L699 343M826.9 471.8L829.4 478.4L832.0 484.9M684.0 366.2L690.2 369.6L696.3 373.0" fill="none" stroke="#0a3cc0" stroke-width="1.5" opacity="0.5" stroke-linecap="butt"/>
<path d="M819 226L824 231L829 236L834 240L839 245M922 396L923 403L924 410L925 417L926 424M939.4 181.2L941.2 187.9L943.0 194.7M581 276L588 277L595 278L601 279L608 280L615 281L622 282L629 284L636 285M1098 304L1103 298L1107 293L1112 288L1117 282L1121 277L1126 272M1069.1 328.2L1072.4 322.1L1075.7 315.9M787.6 301.7L792.5 306.7L797.4 311.6M872 129L878 133L884 137L889 141L895 145M842.4 346.0L845.7 352.2L848.9 358.4M1078 265L1082 260L1087 255L1091 249L1096 244M1163 162L1170 160L1176 158L1183 156L1190 154L1197 152L1204 151L1210 149L1217 147L1224 146L1231 145L1238 143L1245 142M1014 345L1015 339L1017 332L1019 325L1020 318M1009 297L1011 290L1013 283L1015 276L1017 270M1130 262L1135 258L1141 253L1146 249L1152 245M1130 260L1135 255L1141 251L1146 247L1152 243L1158 239L1164 235M880 320L883 327L885 334L888 340L890 347M981 442L981 435L981 428L982 421L982 414M991 302L992 295L994 288L995 281L996 274M1108 314L1112 309L1117 303L1122 298L1126 293M1049 232L1053 226L1058 221L1062 215L1066 210M656 291L663 293L669 296L676 298L682 301M1041 195L1046 190L1051 185L1055 180L1060 175M1213 185L1220 183L1227 182L1234 180L1241 178L1247 177L1254 175L1261 174L1268 173L1275 172L1282 171L1289 170L1296 169L1303 168L1310 167L1317 167L1324 166L1331 165L1337 165M1065 130L1071 127L1078 124L1084 121L1091 119L1097 117L1104 115L1111 113L1117 111M1054 263L1058 257L1062 251L1066 245L1070 239M854.8 421.5L857.1 428.1L859.4 434.7M697 280L704 283L710 287L716 290L722 293M725 257L731 260L737 264L743 267L749 271M727 271L733 275L739 278L745 282L751 286M872 392L874 399L876 406L878 412L880 419M926 341L927 348L928 354L929 361L930 368" fill="none" stroke="#0a4cc4" stroke-width="1.5" opacity="0.2" stroke-linecap="butt"/>
<path d="M717 477L722 482L727 487L732 492L737 497M746.0 354.9L751.2 359.5L756.5 364.2M640 295L647 297L654 299L660 301L667 303L673 306L680 308M1282 358L1289 356L1296 354L1303 352L1309 351M612 350L619 351L625 353L632 355L639 357M677 390L683 394L689 397L695 401L701 405M822.6 427.2L825.6 433.6L828.6 439.9M713.5 399.4L719.0 403.7L724.5 408.0M745.1 342.2L750.5 346.7L755.8 351.2M687 352L693 356L699 359L705 363L711 367" fill="none" stroke="#0e50dc" stroke-width="2.5" opacity="0.5" stroke-linecap="butt"/>
<path d="M1293 525L1299 522L1306 520L1313 518L1320 516M1305 352L1312 350L1319 349L1326 348L1333 346L1340 345L1347 345M1331 347L1338 346L1345 345L1351 344L1358 344M1309.6 403.4L1316.5 401.9L1323.3 400.3M1307 383L1314 382L1321 380L1328 379L1335 378L1342 377L1349 376M1329.2 537.5L1336.2 536.4L1343.1 535.4" fill="none" stroke="#1a6cf0" stroke-width="3" opacity="0.5" stroke-linecap="butt"/>
<path d="M1275 379L1281 376L1288 374L1295 372L1301 370M1318 523L1325 522L1332 521L1339 519L1346 518M1284 409L1290 407L1297 405L1304 403L1310 401L1317 399L1324 398M1280 435L1286 432L1293 430L1299 428L1306 426M1342.1 522.3L1349.1 521.7L1356.1 521.0M1292 368L1299 366L1306 365L1312 363L1319 362L1326 360L1333 359M1315 432L1322 430L1329 429L1336 428L1343 427M1312 478L1319 476L1326 475L1333 473L1339 472M1311 500L1318 499L1325 497L1332 496L1338 495M1291 447L1297 445L1304 443L1311 441L1317 439" fill="none" stroke="#000" stroke-width="3" opacity="0.6" stroke-linecap="butt"/>
<path d="M1310 468L1317 467L1324 465L1331 464L1337 463M825.9 441.8L828.7 448.3L831.5 454.7M792 502L795 509L798 515L801 521L803 528M722.8 359.9L728.4 364.1L734.0 368.3" fill="none" stroke="#1a6cf0" stroke-width="2" opacity="0.9" stroke-linecap="butt"/>
<path d="M1312 490L1319 489L1326 487L1333 486L1340 485M1331 439L1338 438L1345 438L1352 437L1359 436M1275 399L1282 396L1288 394L1295 392L1302 389M1286 400L1293 398L1299 396L1306 394L1313 392M1307.5 451.9L1314.3 450.2L1321.1 448.5M1337.6 540.9L1344.5 540.1L1351.5 539.4M1312.6 434.5L1319.5 433.0L1326.3 431.5M1274.6 511.5L1281.0 508.6L1287.4 505.8" fill="none" stroke="#000" stroke-width="2.5" opacity="0.6" stroke-linecap="butt"/>
<path d="M755 497L758 503L762 509L766 515L770 521M622 311L629 313L635 314L642 316L649 318L656 320L662 323M700 380L706 384L712 388L717 392L723 396M653 311L660 313L666 316L673 318L679 321L686 324L692 327M679 300L685 303L691 306L698 309L704 312M1284 383L1290 381L1297 379L1304 377L1310 375L1317 374L1324 372M710.2 453.9L715.5 458.5L720.8 463.1M846.3 469.7L848.5 476.3L850.6 483.0M570 404L577 405L584 405L591 406L598 407L605 409L612 410M755 395L759 400L764 405L768 411L773 416M661 306L668 309L674 312L681 314L687 317" fill="none" stroke="#0e50dc" stroke-width="2" opacity="0.9" stroke-linecap="butt"/>
<path d="M616 329L622 331L629 332L636 334L643 336M792 442L795 448L799 454L802 460L806 466M700 309L707 313L713 316L719 320L725 323M672.6 418.2L678.7 421.6L684.8 425.0M803.3 413.3L806.5 418.8L809.7 424.3M773.1 476.5L776.7 482.4L780.4 488.4M828 489L830 496L832 502L835 509L837 516M810.3 506.9L812.8 513.0L815.2 519.0M674.9 381.9L681.1 385.2L687.3 388.5M875.9 481.2L877.4 488.0L879.0 494.9M857.2 491.7L859.0 498.5L860.8 505.2M659 351L665 354L672 357L678 360L684 363M807.1 538.5L809.2 544.1L811.3 549.7M720.1 473.2L725.1 478.2L730.0 483.1M751.6 418.3L756.3 423.6L760.9 428.8M789.9 553.3L792.6 559.7L795.3 566.2" fill="none" stroke="#0e50dc" stroke-width="1.5" opacity="0.7" stroke-linecap="butt"/>
<path d="M1285 379L1292 377L1299 375L1306 373L1312 371M1268 344L1274 341L1281 339L1288 337L1294 335M1318 457L1325 456L1332 455L1339 454L1346 453M1283.7 553.2L1289.5 550.8L1295.3 548.5M1310.5 508.7L1317.4 507.0L1324.2 505.4M1275.7 558.3L1282.1 555.4L1288.5 552.5M1274 481L1281 478L1287 475L1294 473L1301 470M1273.1 477.2L1279.5 474.4L1285.9 471.6M1278 343L1285 341L1291 339L1298 337L1305 335M1293.3 512.7L1299.8 510.5L1306.3 508.4M1327 526L1333 524L1340 524L1347 523L1354 522L1361 522L1368 521M1311 410L1318 409L1325 407L1332 406L1339 405L1346 404L1353 403" fill="none" stroke="#000" stroke-width="2.5" opacity="0.4" stroke-linecap="butt"/>
<path d="M1294.1 444.8L1300.8 442.7L1307.5 440.6M1325 478L1332 477L1339 476L1346 475L1353 474L1360 474L1367 473M1274 395L1281 393L1287 390L1294 388L1301 386M1295 428L1301 426L1308 424L1315 422L1322 420M1282 455L1289 452L1296 450L1302 448L1309 446M1311 475L1318 473L1325 472L1332 470L1339 469M1334 496L1341 495L1348 494L1355 493L1362 493M1304 359L1311 358L1318 356L1325 355L1331 354L1338 353L1345 352M1273.2 528.1L1279.5 525.2L1285.9 522.2M1308 466L1315 465L1322 463L1329 462L1336 461L1343 459L1350 459M1285 399L1291 397L1298 395L1305 393L1311 391M1275 446L1282 443L1288 441L1295 438L1301 436" fill="none" stroke="#000" stroke-width="2" opacity="0.4" stroke-linecap="butt"/>
<path d="M828 200L833 204L838 209L844 213L849 218" fill="none" stroke="#bfe0ff" stroke-width="3" opacity="0.25" stroke-linecap="butt"/>
<path d="M1329 503L1336 502L1343 501L1350 500L1356 499M1313 371L1320 370L1327 368L1334 367L1341 366L1347 366L1354 365M1303 537L1310 535L1317 533L1324 532L1331 530M1297.0 401.5L1303.7 399.6L1310.5 397.7" fill="none" stroke="#1a6cf0" stroke-width="3" opacity="0.9" stroke-linecap="butt"/>
<path d="M603 159L610 159L617 160L624 161L631 161L638 162L645 163L652 164L659 165L665 166L672 167L679 169L686 170L693 171L700 173M710 186L717 188L724 190L730 193L737 195L743 198L750 201L756 203L762 206L769 210L775 213M664 220L670 222L677 224L684 226L690 228L697 230L704 233L710 235L717 238L723 240L729 243M703 189L710 191L717 193L723 195L730 198L736 200L743 203L749 205L756 208M776 154L783 156L789 159L796 162L802 165L808 168L815 171L821 174L827 178M854.5 228.0L858.9 233.4L863.3 238.8" fill="none" stroke="#8fc6fb" stroke-width="3" opacity="0.25" stroke-linecap="butt"/>
<path d="M978.6 415.3L978.8 412.0L978.9 408.8M1001.7 220.4L1003.0 216.6L1004.2 212.8M1257.7 252.7L1261.6 251.5L1265.6 250.3M1095.9 253.5L1098.5 250.8L1101.0 248.1M991.7 196.9L992.7 193.7L993.6 190.5M1211.1 196.5L1214.6 195.3L1218.1 194.2M967.3 337.8L967.3 335.4L967.4 332.9M1036.1 223.8L1037.9 220.8L1039.8 217.8M1240.6 294.0L1244.0 292.5L1247.5 291.1M1151.7 319.3L1155.2 316.2L1158.6 313.1M1111.8 224.6L1113.9 223.0L1116.0 221.3M1002.2 278.6L1003.0 275.1L1003.8 271.6M977.0 412.7L977.1 409.1L977.3 405.5M1189.2 226.6L1193.2 224.8L1197.2 222.9M1203.1 247.9L1205.7 246.7L1208.4 245.5M1237.2 328.0L1241.9 325.8L1246.6 323.6M1053.7 269.7L1054.8 267.7L1055.9 265.7M1060.2 224.8L1061.4 223.3L1062.6 221.8M1047.0 295.5L1048.3 292.6L1049.6 289.8M1169.7 275.0L1171.7 273.6L1173.7 272.2M978.2 329.4L978.3 327.0L978.5 324.5" fill="none" stroke="#00082a" stroke-width="2" opacity="0.6" stroke-linecap="butt"/>
<path d="M600 307L607 308L614 310L620 311L627 313L634 314L641 316M595 320L602 321L609 322L615 323L622 325L629 326L636 328L643 330L649 332" fill="none" stroke="#1a6cf0" stroke-width="1.5" opacity="0.9" stroke-linecap="butt"/>
<path d="M1313 376L1320 375L1327 374L1334 373L1341 372L1348 371L1355 370M1274 448L1280 445L1287 442L1293 440L1300 438M1331 492L1338 491L1345 490L1352 489L1359 489" fill="none" stroke="#0a3cc0" stroke-width="3" opacity="0.5" stroke-linecap="butt"/>
<path d="M1172 290L1178 286L1184 282L1190 278L1196 275L1202 271L1208 268L1214 265L1221 262M967 121L968 114L970 108L972 101L976 95M1023 158L1027 153L1032 149L1038 144L1043 139M945 114L948 120L951 127L953 134L955 140M1171 263L1176 260L1183 256L1189 253L1195 250L1201 246L1207 243L1214 240L1220 238M1112 344L1116 338L1121 333L1125 327L1130 322M709 273L716 277L722 280L728 283L734 287L740 290L746 294M1060 246L1065 241L1069 235L1073 230L1078 224M1130 314L1134 309L1139 304L1144 299L1150 294M991.6 240.5L993.1 233.7L994.7 226.8M1153 206L1159 203L1166 200L1172 197L1179 194L1185 192L1192 189L1198 187L1205 185L1212 183L1218 180L1225 179L1232 177M786 294L791 298L796 303L801 308L805 314M771 302L776 307L781 311L786 316L791 321M986.5 201.2L988.2 194.4L989.9 187.7M1171 216L1177 212L1183 210L1190 207L1196 204L1203 202L1209 199L1216 197L1223 195L1229 193L1236 191M952 499L953 506L953 513L953 520L953 527M1159 157L1166 155L1172 153L1179 151L1186 149L1193 148L1199 146L1206 145L1213 143L1220 142L1227 141L1234 139L1241 138L1248 137L1255 136L1261 135L1268 135L1275 134L1282 133M775 298L781 303L786 308L791 313L796 318L800 323L805 328M991.9 258.8L993.2 251.9L994.6 245.1M838 298L842 304L846 310L850 316L853 322M635 238L642 240L649 242L656 243L663 245L669 247L676 249L683 251L689 254L696 256L702 259M1071 261L1075 255L1080 250L1084 245L1089 239L1094 234L1098 229M1085 181L1091 177L1097 173L1103 169L1109 166L1115 162L1122 159L1128 156L1134 154M961 217L961 224L962 231L962 238L962 245M1003 277L1005 270L1007 263L1009 257L1011 250M1258 318L1264 316L1271 314L1277 311L1284 309M739.5 302.3L745.2 306.3L750.9 310.3M1042.1 230.2L1046.0 224.4L1049.9 218.5M1101 316L1105 310L1109 305L1114 299L1118 294L1123 289L1128 284M1082.6 289.7L1086.7 284.1L1090.8 278.4" fill="none" stroke="#0a4cc4" stroke-width="3" opacity="0.2" stroke-linecap="butt"/>
<path d="M1242.5 335.4L1246.8 333.4L1251.0 331.4M1023.9 336.1L1024.8 332.8L1025.7 329.4M1097.8 241.1L1100.5 238.4L1103.3 235.7M1072.7 204.1L1074.5 202.4L1076.3 200.6M1177.3 306.0L1181.1 303.3L1184.9 300.5M1267.0 298.1L1271.3 296.7L1275.5 295.3M941.1 353.1L941.3 355.5L941.5 358.0M1189.4 192.8L1194.1 191.1L1198.9 189.4M1183.7 270.8L1187.9 268.4L1192.1 265.9M1254.2 225.3L1258.0 224.2L1261.9 223.2M1095.1 321.3L1096.2 319.7L1097.3 318.1M1129.0 272.4L1130.6 270.9L1132.2 269.5" fill="none" stroke="#00082a" stroke-width="1.5" opacity="0.6" stroke-linecap="butt"/>
<path d="M634 384L640 386L647 388L654 391L660 393M823.9 438.9L826.6 445.0L829.3 451.1M762 521L766 527L769 533L773 540L776 546M804 489L807 496L809 502L812 509L815 515M848.5 521.2L850.3 527.9L852.1 534.7M571 409L578 410L585 411L592 412L599 413L606 414L613 415" fill="none" stroke="#0a3cc0" stroke-width="2" opacity="0.9" stroke-linecap="butt"/>
<path d="M1259 236L1266 234L1273 233L1280 231L1287 230L1294 228L1300 227L1307 226L1314 225M832 259L836 264L841 270L845 275L849 281M949.7 103.2L953.1 109.4L956.4 115.5M955.6 404.6L955.8 411.6L956.0 418.6M673 229L680 231L687 233L693 235L700 238L707 240L713 243M1174 271L1180 267L1186 264L1192 260L1198 257L1205 254L1211 251M1107 274L1112 269L1117 264L1122 260L1127 255M1159 313L1164 308L1170 304L1175 300L1181 295M1038 301L1040 294L1043 288L1046 281L1049 275M620 234L627 235L633 237L640 238L647 240L654 241L661 243L667 245L674 247M922 362L923 369L924 376L925 383L926 390M1151 231L1157 227L1163 224L1169 220L1176 217L1182 214L1188 211L1195 208L1201 206M817 233L822 237L827 242L832 247L837 252M1121 245L1127 240L1132 236L1138 232L1144 228M1138 149L1145 146L1152 144L1158 142L1165 140L1172 139L1179 137L1185 135L1192 134L1199 132L1206 131L1213 130L1220 129L1227 128L1234 127M1026 197L1030 191L1035 185L1039 180L1044 175M911.5 335.7L913.1 342.5L914.6 349.3M878 180L883 185L887 191L892 196L896 202M1206 167L1213 165L1220 164L1227 162L1234 161L1241 159L1247 158L1254 157L1261 156L1268 155L1275 154L1282 153L1289 152L1296 151L1303 150M1141 309L1146 304L1151 299L1157 295L1162 290M1240 331L1247 328L1253 325L1260 322L1266 320L1273 317L1279 315M967.3 275.2L967.4 268.3L967.5 261.3M951 196L952 203L953 210L953 217L954 224M748 322L754 326L759 331L764 335L769 340M1165 144L1172 142L1179 140L1185 139L1192 137L1199 136L1206 134L1213 133L1220 132L1227 131L1234 130L1240 129L1247 128L1254 127L1261 126L1268 126L1275 125L1282 124L1289 124M945 418L945 425L946 432L946 439L946 446M1198 255L1205 252L1211 249L1217 247L1224 244L1230 241L1237 239M1166 216L1172 213L1179 210L1185 207L1192 205L1198 202L1205 200L1211 197L1218 195L1225 193L1231 191M980 262L980 255L981 248L982 241L983 234M1049 137L1055 133L1062 130L1068 127L1074 124L1081 121L1087 119L1094 117L1101 115L1107 113L1114 111L1121 109L1128 108L1135 106L1141 105L1148 104L1155 103L1162 102L1169 101M846 427L848 433L851 440L853 446L855 453M1127 231L1132 227L1138 224L1144 220L1150 216L1156 212L1162 209M1151 150L1158 148L1164 146L1171 144L1178 143L1185 141L1192 139L1198 138L1205 137L1212 135L1219 134L1226 133L1233 132L1240 131L1247 130L1254 129L1261 128M868 200L872 205L876 211L881 216L885 222M896 108L902 111L908 115L914 119L920 123" fill="none" stroke="#0a4cc4" stroke-width="1.5" opacity="0.45" stroke-linecap="butt"/>
<path d="M1270 343L1277 341L1283 339L1290 337L1297 335M1299.1 550.1L1305.2 548.2L1311.4 546.3M1282.3 520.4L1288.8 517.8L1295.3 515.2M1295.7 403.9L1302.4 401.9L1309.1 400.0M1332 524L1339 524L1346 523L1353 522L1360 522M709 355L715 359L721 363L727 367L732 371M641 345L648 347L654 349L661 352L667 354L674 357L680 360" fill="none" stroke="#0e50dc" stroke-width="2.5" opacity="0.7" stroke-linecap="butt"/>
<path d="M672 140L679 141L686 142L693 143L700 144L707 145L713 147L720 148L727 150L734 152L741 153L747 155L754 157L761 159L767 162L774 164L781 166M762 231L768 234L773 238L779 242L785 246L791 250L796 255M795 149L801 152L808 155L814 158L820 161L826 165L832 168L838 172L844 176M696 221L703 223L710 226L716 228L723 231L729 234L735 236M655 158L662 159L669 160L676 162L683 163L689 164L696 166L703 167L710 169L717 171L723 173L730 175L737 177" fill="none" stroke="#a9d4fd" stroke-width="3" opacity="0.4" stroke-linecap="butt"/>
<path d="M790.7 424.0L794.1 429.3L797.4 434.5M752 349L757 354L762 358L767 363L772 368M1291 434L1297 431L1304 429L1311 427L1317 426M780.4 361.9L784.8 367.2L789.3 372.5M1299.3 443.6L1306.0 441.7L1312.7 439.8M840.5 517.7L842.5 524.5L844.4 531.2M779 371L783 376L788 382L792 387L796 393" fill="none" stroke="#0e50dc" stroke-width="2" opacity="0.5" stroke-linecap="butt"/>
<path d="M1157.3 218.2L1161.5 215.9L1165.7 213.7M1250.9 339.0L1255.0 337.2L1259.1 335.4M1010.5 329.8L1011.3 326.1L1012.1 322.4M1070.6 210.1L1073.0 207.6L1075.4 205.2M1190.5 262.6L1193.0 261.2L1195.5 259.8M1151.0 224.0L1154.4 222.0L1157.9 219.9M1074.4 294.3L1075.4 292.8L1076.3 291.3M999.8 254.9L1000.6 251.7L1001.5 248.5M945.3 330.5L945.4 332.1L945.6 333.6M1267.1 335.2L1270.9 333.9L1274.6 332.5M1194.3 285.0L1199.0 282.3L1203.7 279.6M1202.8 222.0L1206.2 220.6L1209.7 219.2M1088.2 310.7L1089.4 308.8L1090.7 306.9M1263.2 267.8L1265.4 267.1L1267.7 266.4M1084.9 312.1L1086.3 310.0L1087.6 307.9M1064.0 270.8L1064.8 269.5L1065.7 268.1M1194.1 195.4L1199.0 193.7L1203.9 191.9M1072.4 259.5L1074.5 256.6L1076.7 253.7M1242.9 334.5L1245.9 333.1L1249.0 331.6M976.4 367.8L976.5 366.3L976.6 364.8M1030.7 238.6L1031.7 236.7L1032.7 234.8" fill="none" stroke="#00082a" stroke-width="2.5" opacity="0.75" stroke-linecap="butt"/>
<path d="M860 537L861 544L863 551L864 558L865 565M768 418L772 423L777 429L781 435L785 440M594 386L600 387L607 389L614 390L621 392L628 394L634 396M601 315L608 317L615 318L621 320L628 321L635 323L642 325M725.3 382.7L730.7 387.1L736.1 391.6M589 324L596 325L603 326L610 328L617 329L624 330L630 332L637 334L644 336M873.2 474.1L874.8 480.9L876.4 487.7M556 341L563 341L569 342L576 342L583 343L590 344L597 344L604 345L611 347M717 446L723 450L728 455L733 460L737 465M676 306L683 308L689 311L696 314L702 317M750.6 521.6L754.5 527.4L758.3 533.3M851 440L853 447L855 454L857 460L859 467" fill="none" stroke="#0a3cc0" stroke-width="2.5" opacity="0.7" stroke-linecap="butt"/>
<path d="M1041.1 286.0L1042.5 282.7L1044.0 279.4M1140.3 260.3L1142.6 258.5L1145.0 256.6M941.6 361.6L941.8 363.2L941.9 364.9M947.6 396.8L947.7 398.7L947.8 400.7M1273.8 243.4L1277.3 242.6L1280.7 241.7M948.6 336.4L948.8 339.3L949.0 342.2M992.7 314.8L993.1 311.6L993.6 308.4M1078.3 203.9L1080.2 202.1L1082.2 200.3M1042.0 316.1L1042.7 314.3L1043.4 312.5M946.7 430.5L946.8 432.0L946.9 433.6M1063.4 249.6L1064.5 248.0L1065.6 246.4M1155.3 283.4L1158.6 280.9L1161.9 278.4M1160.9 236.5L1164.0 234.6L1167.2 232.8M1000.4 205.2L1001.2 203.0L1002.0 200.8M1237.0 338.2L1239.4 336.9L1241.9 335.7M1069.8 274.6L1072.0 271.3L1074.2 268.0M1120.5 260.0L1122.1 258.5L1123.7 257.0M1226.3 255.9L1229.4 254.6L1232.5 253.3M1218.3 236.9L1222.2 235.4L1226.0 233.9M1063.3 199.2L1066.0 196.5L1068.6 193.8" fill="none" stroke="#00082a" stroke-width="2.5" opacity="0.45" stroke-linecap="butt"/>
<path d="M708 119L715 120L722 122L729 123L736 124L743 125L750 127L757 128L763 130L770 131L777 133L784 135L790 137L797 139L804 141L810 144L817 147M779 272L785 277L790 282L795 286L800 291M826 223L831 228L836 233L841 238L845 243" fill="none" stroke="#bfe0ff" stroke-width="1.5" opacity="0.4" stroke-linecap="butt"/>
<path d="M810 175L816 179L822 183L828 186L833 190M787 244L793 248L798 253L803 257L808 262L814 267L819 272" fill="none" stroke="#a9d4fd" stroke-width="3" opacity="0.25" stroke-linecap="butt"/>
<path d="M757 395L762 400L767 406L771 411L775 416M698.1 404.8L703.8 408.8L709.6 412.8M790.3 542.1L792.6 547.4L794.9 552.7M776.3 437.5L780.3 443.3L784.2 449.1M832.3 476.0L834.7 482.6L837.1 489.1M758.4 547.3L761.8 553.4L765.3 559.5M736.4 355.5L741.8 360.0L747.2 364.4M715.9 423.1L721.3 427.6L726.6 432.1" fill="none" stroke="#0e50dc" stroke-width="1.5" opacity="0.9" stroke-linecap="butt"/>
<path d="M725 198L732 200L738 203L744 206L751 208L757 211L764 214M800 154L806 157L812 160L818 163L824 167L830 170L836 174L842 178L848 182M675 196L682 198L689 200L696 202L702 204L709 206L716 208L722 210L729 213L735 216L742 218M805 134L812 137L819 139L825 142L831 145L838 148L844 151M829 160L835 164L841 168L846 172L852 176L858 180L863 184" fill="none" stroke="#a9d4fd" stroke-width="2" opacity="0.4" stroke-linecap="butt"/>
<path d="M712 233L719 236L725 238L732 241L738 245L744 248L750 251M645 129L652 130L659 130L666 131L673 132L679 133L686 134L693 135L700 136L707 137L714 138L721 140L728 141L735 143L741 144L748 146L755 148L762 150L768 152L775 154L782 156M688 117L695 118L702 118L708 119L715 120L722 121L729 123L736 124L743 125L750 126L757 128L764 129L770 131L777 133L784 135L791 137L797 139L804 141L810 143" fill="none" stroke="#8fc6fb" stroke-width="3" opacity="0.55" stroke-linecap="butt"/>
<path d="M1293 428L1300 426L1306 424L1313 422L1320 421M1319 432L1326 430L1333 429L1340 428L1347 427M1315.9 484.0L1322.8 482.5L1329.6 481.1M1283 494L1289 492L1296 489L1302 487L1309 485M1316 393L1323 392L1330 390L1336 389L1343 388M1289.8 460.1L1296.4 457.9L1303.0 455.6M1333 515L1340 514L1347 513L1354 512L1361 512M1318.8 547.5L1325.7 546.1L1332.5 544.7M1272 363L1278 361L1285 358L1292 356L1298 354L1305 352L1312 351M1285.7 380.6L1292.4 378.5L1299.0 376.4" fill="none" stroke="#000" stroke-width="2" opacity="0.6" stroke-linecap="butt"/>
<path d="M606 317L613 318L619 320L626 321L633 323L640 325L647 327M584 326L591 327L598 328L605 329L612 330M1273.4 488.8L1279.8 486.0L1286.2 483.1M1295 449L1302 447L1308 445L1315 443L1322 442M561 325L568 326L575 326L582 327L589 328L596 329L603 330L610 331L617 332M744 431L749 436L754 441L758 447L763 452M742 350L747 355L753 359L758 364L763 369M648.3 413.3L654.8 416.0L661.2 418.8M1276.6 429.1L1283.1 426.5L1289.6 424.0M633 303L640 305L646 307L653 309L660 311" fill="none" stroke="#0a3cc0" stroke-width="2" opacity="0.5" stroke-linecap="butt"/>
<path d="M812 241L817 245L822 250L827 255L832 260" fill="none" stroke="#8fc6fb" stroke-width="2" opacity="0.25" stroke-linecap="butt"/>
<path d="M1319 502L1325 501L1332 500L1339 498L1346 497M1278 515L1285 512L1291 510L1298 507L1304 505M1301.2 465.0L1307.9 463.1L1314.7 461.2" fill="none" stroke="#0e50dc" stroke-width="3" opacity="0.5" stroke-linecap="butt"/>
<path d="M1306.8 551.5L1313.6 549.7L1320.4 547.9M1291.2 558.8L1297.6 556.5L1303.9 554.2M1286.6 483.2L1293.2 480.8L1299.7 478.4" fill="none" stroke="#0e50dc" stroke-width="3" opacity="0.7" stroke-linecap="butt"/>
<path d="M1294.0 548.4L1300.6 546.1L1307.2 543.9M1332 525L1339 524L1346 523L1353 523L1360 522L1367 522L1374 522M1289.9 377.2L1296.6 375.2L1303.3 373.2" fill="none" stroke="#1a6cf0" stroke-width="3" opacity="0.7" stroke-linecap="butt"/>
<path d="M1291.1 496.7L1297.7 494.4L1304.3 492.2M1280.8 448.7L1287.3 446.2L1293.8 443.7M1296 531L1303 529L1309 527L1316 525L1323 523" fill="none" stroke="#0e50dc" stroke-width="3" opacity="0.9" stroke-linecap="butt"/>
<path d="M681 229L687 231L694 234L701 236L707 239L714 241L720 244L726 247L733 250M794 235L800 240L805 244L811 249L816 253" fill="none" stroke="#bfe0ff" stroke-width="3" opacity="0.4" stroke-linecap="butt"/>
<path d="M609 315L616 317L623 318L630 320L637 322L643 324L650 326L657 328L663 330M763 343L768 348L773 353L777 358L782 363M691 366L697 369L703 373L709 377L715 380M679.1 331.6L685.4 334.6L691.8 337.6M819 524L821 530L824 537L826 544L828 550M766.5 466.0L770.4 471.8L774.4 477.6" fill="none" stroke="#1a6cf0" stroke-width="1.5" opacity="0.5" stroke-linecap="butt"/>
<path d="M811 214L817 219L822 223L827 228L833 233L838 238L843 243M641 202L648 204L655 205L662 207L669 208L675 210L682 212L689 214L696 216M836 238L841 244L845 249L850 254L854 260" fill="none" stroke="#a9d4fd" stroke-width="1.5" opacity="0.55" stroke-linecap="butt"/>
<path d="M637 195L644 196L650 197L657 199L664 200L671 202L678 203L685 205L691 207L698 209L705 211M857 237L861 242L865 248L869 254L873 260M626 144L633 144L640 145L647 146L654 147L661 148L667 149L674 150L681 151L688 152L695 153L702 155L709 156L716 158L722 159L729 161L736 163" fill="none" stroke="#bfe0ff" stroke-width="3" opacity="0.55" stroke-linecap="butt"/>
<path d="M604 184L611 185L618 186L625 186L632 187L639 188L646 190L653 191L660 192L667 193L674 195L680 197L687 198L694 200L701 202" fill="none" stroke="#a9d4fd" stroke-width="1.5" opacity="0.4" stroke-linecap="butt"/>
<path d="M748 255L754 259L760 263L765 267L771 271M782 145L788 147L795 149L801 152L808 155L814 158L820 161L826 164L832 168" fill="none" stroke="#bfe0ff" stroke-width="1.5" opacity="0.55" stroke-linecap="butt"/>
<path d="M1268 399L1274 397L1281 394L1287 392L1294 389M1302 345L1309 344L1315 342L1322 341L1329 340L1336 339L1343 338M1308.9 488.0L1315.7 486.3L1322.4 484.6M1307 528L1313 526L1320 524L1327 523L1334 521" fill="none" stroke="#0a3cc0" stroke-width="3" opacity="0.9" stroke-linecap="butt"/>
<path d="M726 248L732 251L738 254L744 258L750 261L756 265L762 269M842 169L847 173L853 177L858 181L864 186M759 225L765 228L771 232L777 236L783 240" fill="none" stroke="#8fc6fb" stroke-width="2" opacity="0.4" stroke-linecap="butt"/>
<path d="M785 240L791 245L796 249L802 254L807 258L812 263L817 268M752 243L758 247L764 251L770 255L776 258L781 263L787 267M816 184L822 187L828 192L833 196L839 200L844 205L850 209M736 169L743 171L749 173L756 176L762 178L769 181L775 184L782 187L788 190M839 166L845 170L850 174L856 178L861 183" fill="none" stroke="#bfe0ff" stroke-width="2" opacity="0.55" stroke-linecap="butt"/>
<path d="M865.5 488.2L867.2 495.0L868.8 501.8M759 498L762 504L766 510L770 516L773 522M728 412L733 417L738 422L743 426L748 431" fill="none" stroke="#1a6cf0" stroke-width="1.5" opacity="0.7" stroke-linecap="butt"/>
<path d="M846 173L852 177L857 181L862 186L867 191L872 196L877 201" fill="none" stroke="#8fc6fb" stroke-width="1.5" opacity="0.25" stroke-linecap="butt"/>
<path d="M699 131L706 132L713 133L720 134L727 136L734 137L740 139L747 140L754 142L761 144L767 146" fill="none" stroke="#8fc6fb" stroke-width="1.5" opacity="0.4" stroke-linecap="butt"/>
<path d="M789 146L796 148L802 151L809 154L815 157L821 160L828 163L834 167L840 170L845 174L851 178" fill="none" stroke="#bfe0ff" stroke-width="2" opacity="0.4" stroke-linecap="butt"/>
<path d="M850 238L854 243L858 249L863 254L867 260M785 226L791 230L797 235L802 239L808 243M783 144L790 146L796 148L803 151L809 154L815 157L822 160L828 163L834 167M765 276L771 280L776 284L781 289L787 293" fill="none" stroke="#a9d4fd" stroke-width="2" opacity="0.55" stroke-linecap="butt"/>
<path d="M638 205L645 206L652 208L659 209L666 211L673 213L679 214L686 216L693 218L700 220L706 223M829 149L835 152L841 156L847 160L853 163L858 167L864 172" fill="none" stroke="#a9d4fd" stroke-width="1.5" opacity="0.25" stroke-linecap="butt"/>
<path d="M825 194L830 198L836 202L841 207L846 212L851 217L856 222M624 141L631 141L638 142L645 143L652 143L659 144L666 145L673 146L680 147L687 149L694 150L700 151L707 152L714 154L721 155L728 157L735 159L741 161L748 163" fill="none" stroke="#8fc6fb" stroke-width="1.5" opacity="0.55" stroke-linecap="butt"/>
<path d="M813 172L819 176L825 179L831 183L837 187" fill="none" stroke="#8fc6fb" stroke-width="2" opacity="0.55" stroke-linecap="butt"/>
<path d="M799 155L805 158L812 161L818 165L824 168L830 172L836 175L842 179L847 184" fill="none" stroke="#a9d4fd" stroke-width="2" opacity="0.25" stroke-linecap="butt"/>
<path d="M966 240h13v17h-13zM937 288h9v16h-9zM960 267h9v16h-9zM942 194h7v20h-7zM996 115h13v14h-13zM1043 182h8v10h-8zM999 159h12v15h-12zM956 249h12v16h-12zM964 324h8v18h-8zM945 306h10v21h-10zM1035 244h5v18h-5zM1016 259h9v13h-9zM892 224h6v10h-6zM950 155h10v19h-10zM1012 147h10v21h-10zM978 161h10v14h-10zM1033 208h9v16h-9zM1020 140h12v21h-12zM907 205h7v21h-7zM946 233h9v12h-9zM938 253h11v17h-11zM1013 150h9v9h-9zM901 278h7v12h-7zM973 254h12v13h-12zM1043 306h6v14h-6zM936 128h10v11h-10zM976 330h7v9h-7zM950 227h13v22h-13z" fill="#0b55cc" opacity="0.15"/>
<path d="M964 284h10v16h-10zM892 313h5v21h-5zM961 177h9v18h-9zM960 152h11v14h-11zM1006 292h5v9h-5zM928 292h8v17h-8zM932 227h9v11h-9zM955 130h9v18h-9zM1047 272h6v12h-6zM1023 271h7v20h-7zM952 321h5v18h-5zM989 295h6v17h-6zM1026 180h10v9h-10zM980 194h12v12h-12zM938 301h7v15h-7zM971 201h11v21h-11zM928 143h9v11h-9zM1039 318h4v11h-4zM957 168h15v19h-15zM891 175h11v8h-11zM938 241h10v16h-10zM1000 255h11v20h-11zM1025 257h6v18h-6zM931 182h13v15h-13zM931 141h14v13h-14zM1034 260h8v18h-8zM985 115h17v20h-17zM1046 237h5v12h-5zM908 161h9v16h-9z" fill="#ffffff" opacity="0.32"/>
<path d="M965 238h10v14h-10zM1028 243h5v15h-5zM996 255h6v9h-6zM936 274h6v10h-6zM1015 264h8v19h-8zM991 210h12v21h-12zM1020 200h9v12h-9zM1047 136h11v12h-11zM918 277h5v21h-5zM1005 204h8v16h-8zM913 182h11v13h-11zM939 270h11v8h-11zM1022 256h6v21h-6zM926 269h6v17h-6zM914 314h6v8h-6zM949 118h16v13h-16zM944 262h7v16h-7zM965 205h9v22h-9zM961 254h12v21h-12zM990 212h10v16h-10zM939 164h8v15h-8zM999 295h6v8h-6zM934 150h10v17h-10zM966 154h13v17h-13zM1028 186h8v9h-8zM1019 301h8v14h-8zM1037 163h12v10h-12zM915 319h4v17h-4zM969 279h7v20h-7zM1007 227h8v10h-8zM934 182h8v11h-8zM905 202h10v18h-10zM983 212h12v11h-12zM955 155h15v22h-15zM1010 310h5v22h-5zM1002 212h8v13h-8zM1020 286h5v21h-5zM892 262h5v9h-5zM977 197h10v11h-10z" fill="#0b55cc" opacity="0.25"/>
<path d="M918 265h8v9h-8zM995 217h7v14h-7zM946 202h13v10h-13zM974 185h14v10h-14zM998 281h10v20h-10zM1020 175h8v14h-8zM1045 197h10v19h-10zM967 186h15v16h-15zM980 319h9v18h-9zM1016 320h5v18h-5zM919 319h5v11h-5zM1004 325h6v20h-6zM892 149h7v11h-7zM1015 221h6v21h-6zM905 271h7v19h-7zM895 311h5v11h-5zM978 322h6v11h-6zM1031 245h7v11h-7zM963 160h10v21h-10zM908 264h5v9h-5zM930 167h12v19h-12zM918 154h13v14h-13z" fill="#0b55cc" opacity="0.4"/>
<path d="M986 200h8v10h-8zM923 286h6v12h-6zM960 287h7v11h-7zM903 255h5v20h-5zM925 263h10v21h-10zM988 141h15v9h-15zM935 292h9v17h-9zM965 243h9v19h-9zM1040 206h11v11h-11zM1001 120h14v10h-14zM916 323h6v10h-6zM1024 126h14v16h-14zM1042 317h6v16h-6zM988 171h8v9h-8zM975 128h17v9h-17zM962 298h9v10h-9zM1015 151h10v21h-10z" fill="#ffffff" opacity="0.12"/>
<path d="M1032 271h5v11h-5zM999 287h5v18h-5zM942 184h10v19h-10zM1011 314h6v15h-6zM927 169h13v14h-13zM923 329h7v8h-7zM917 318h5v19h-5zM940 155h13v9h-13zM1030 262h6v21h-6zM964 226h13v15h-13zM1017 308h6v14h-6zM982 139h11v8h-11zM911 261h7v10h-7zM994 245h9v20h-9zM1016 132h10v13h-10zM998 241h6v20h-6zM917 319h5v21h-5zM973 141h9v8h-9zM983 238h7v19h-7zM966 205h12v10h-12zM929 187h12v10h-12zM987 202h14v19h-14zM942 198h11v19h-11zM905 278h8v17h-8zM940 234h12v13h-12z" fill="#ffffff" opacity="0.22"/>
<path d="M736 268L769 304L799 341L814 363L828 384" fill="none" stroke="#fff" stroke-width="20" stroke-linecap="round" stroke-linejoin="round" filter="url(#bl3)"/>
<path d="M770 285L800 318L822 348" fill="none" stroke="#f0f8ff" stroke-width="12" stroke-linecap="round" stroke-linejoin="round" filter="url(#bl3)" opacity="0.9"/>
<path d="M752 283L780 318L806 352" fill="none" stroke="#fff" stroke-width="9" stroke-linecap="round" stroke-linejoin="round" filter="url(#bl1_2)"/>
<path d="M825 336L843 370L861 396L880 415L888 422" fill="none" stroke="#fff" stroke-width="6" stroke-linecap="round" stroke-linejoin="round" filter="url(#bl2)"/>
<path d="M812 345L828 378L846 404L866 424" fill="none" stroke="#e6f3ff" stroke-width="5" stroke-linecap="round" stroke-linejoin="round" filter="url(#bl2)" opacity="0.9"/>
<path d="M861 396L885 420L905 430L925 432" fill="none" stroke="#dcedff" stroke-width="7" stroke-linecap="round" stroke-linejoin="round" filter="url(#bl3)" opacity="0.9"/>
<ellipse cx="902" cy="427" rx="6" ry="5" fill="#f4faff" filter="url(#bl2)" opacity="0.9"/>
<ellipse cx="921" cy="335" rx="30" ry="36" fill="#b4dcff" filter="url(#bl8)" opacity="0.8"/>
<path d="M904 311L914 303L928 314L936 330L947 340L944 356L930 364L914 356L904 340L901 324Z" fill="#fff" filter="url(#bl3)"/>
<path d="M904 311L914 303L928 314L936 330L947 340L944 356L930 364L914 356L904 340L901 324Z" fill="#fff" filter="url(#bl1_2)"/>
<ellipse cx="925.5" cy="431" rx="6" ry="5" fill="#fff" filter="url(#bl1_2)"/>
<path d="M1350 260L1331 261L1279 274L1209 302L1140 335L1104 360L1060 386L1017 410L995 422" fill="none" stroke="#5cb6ff" stroke-width="40" stroke-linecap="butt" stroke-linejoin="round" filter="url(#bl8)" opacity="0.8"/>
<path d="M1350 260L1331 261L1279 274L1209 302" fill="none" stroke="#dbeeff" stroke-width="24" stroke-linecap="butt" stroke-linejoin="round" filter="url(#bl5)"/>
<path d="M1209 302L1140 335L1104 360" fill="none" stroke="#d4eaff" stroke-width="11" stroke-linecap="round" stroke-linejoin="round" filter="url(#bl3)" opacity="0.9"/>
<path d="M1350 260L1331 261L1279 274L1209 302" fill="none" stroke="#fff" stroke-width="15" stroke-linecap="butt" stroke-linejoin="round" filter="url(#bl3)"/>
<path d="M1352 261L1331 262L1300 268L1270 278" fill="none" stroke="#fff" stroke-width="22" stroke-linecap="butt" stroke-linejoin="round" filter="url(#bl3)"/>
<path d="M1209 302L1140 335L1104 360" fill="none" stroke="#fff" stroke-width="7" stroke-linecap="round" stroke-linejoin="round" filter="url(#bl3)"/>
<path d="M1140 335L1104 360L1060 386L1017 410L995 422" fill="none" stroke="#bfe0ff" stroke-width="6" stroke-linecap="round" stroke-linejoin="round" filter="url(#bl2)"/>
<path d="M1352 310L1330 312L1279 324L1209 343L1171 354" fill="none" stroke="#6cbcff" stroke-width="22" stroke-linecap="butt" stroke-linejoin="round" filter="url(#bl5)" opacity="0.85"/>
<path d="M1352 310L1330 312L1279 324L1209 343" fill="none" stroke="#fff" stroke-width="9" stroke-linecap="butt" stroke-linejoin="round" filter="url(#bl2)"/>
<path d="M1225 339L1190 349L1165 357" fill="none" stroke="#a8d8ff" stroke-width="7" stroke-linecap="round" stroke-linejoin="round" filter="url(#bl3)" opacity="0.8"/>
<path d="M678 126L684 126L690 127L696 128L702 129L708 130L714 131L720 132L725 133L731 134L737 135L743 136L749 138L755 139L761 141" fill="none" stroke="#000" stroke-width="1.6" opacity="0.85"/>
<path d="M668 133L674 134L680 135L686 136L692 137L698 138L704 139L710 140L716 141L722 142L727 143" fill="none" stroke="#000" stroke-width="1.3" opacity="0.85"/>
<path d="M720 120L726 121L731 122L737 123L743 124L749 125L755 126L761 127L767 129L773 130L778 132L784 133L790 135" fill="none" stroke="#000" stroke-width="1.6" opacity="0.85"/>
<path d="M650 143L656 144L662 145L668 146L674 147L679 147L685 148L691 149L697 150" fill="none" stroke="#000" stroke-width="1.3" opacity="0.85"/>
<path d="M640 154L646 155L652 155L658 156L664 157L670 158L676 159" fill="none" stroke="#000" stroke-width="1.6" opacity="0.85"/>
<path d="M626 165L632 165L638 166L644 167L649 168L655 168L661 169" fill="none" stroke="#000" stroke-width="1.6" opacity="0.85"/>
<path d="M688 123L694 124L700 125L706 126L712 127L718 127L724 128" fill="none" stroke="#000" stroke-width="1.6" opacity="0.85"/>
<path d="M617 185L623 186L629 186L635 187L641 188" fill="none" stroke="#000" stroke-width="1.6" opacity="0.85"/>
<path d="M747 117L753 118L759 119L765 121L771 122L777 123L783 125L789 126L794 128" fill="none" stroke="#000" stroke-width="1.0" opacity="0.85"/>
<path d="M605 204L611 204L616 205L622 206L628 207" fill="none" stroke="#000" stroke-width="1.3" opacity="0.85"/>
<path d="M626 344L648 340L653 380L651 430L622 426L627 380Z" fill="#000" filter="url(#bl3)" opacity="0.93"/>
<path d="M658 394L700 390L714 425L702 447L666 438Z" fill="#000" filter="url(#bl8)" opacity="0.6"/>
</g>
<g stroke="#fff" stroke-width="3" stroke-dasharray="3 8.03" fill="none">
<path d="M163.9 547.8H1837.0"/>
<path d="M163.9 494.4H1837.0"/>
<path d="M163.9 441.0H1837.0"/>
<path d="M163.9 387.6H1837.0"/>
<path d="M163.9 334.2H1837.0"/>
<path d="M163.9 280.8H1837.0"/>
<path d="M163.9 227.4H1837.0"/>
<path d="M163.9 174.0H1837.0"/>
<path d="M163.9 120.6H1837.0"/>
</g>
<g stroke="#fff" stroke-width="3" stroke-dasharray="3 8.03" fill="none" clip-path="url(#clipx)">
<path d="M163.5 601.5V67.2"/>
<path d="M233.2 601.5V67.2"/>
<path d="M302.9 601.5V67.2"/>
<path d="M372.6 601.5V67.2"/>
<path d="M442.2 601.5V67.2"/>
<path d="M511.9 601.5V67.2"/>
<path d="M581.6 601.5V67.2"/>
<path d="M651.3 601.5V67.2"/>
<path d="M721.0 601.5V67.2"/>
<path d="M790.7 601.5V67.2"/>
<path d="M860.4 601.5V67.2"/>
<path d="M930.1 601.5V67.2"/>
<path d="M999.8 601.5V67.2"/>
<path d="M1069.4 601.5V67.2"/>
<path d="M1139.1 601.5V67.2"/>
<path d="M1208.8 601.5V67.2"/>
<path d="M1278.5 601.5V67.2"/>
<path d="M1348.2 601.5V67.2"/>
<path d="M1417.9 601.5V67.2"/>
<path d="M1487.6 601.5V67.2"/>
<path d="M1557.2 601.5V67.2"/>
<path d="M1626.9 601.5V67.2"/>
<path d="M1696.6 601.5V67.2"/>
<path d="M1766.3 601.5V67.2"/>
<path d="M1836.0 601.5V67.2"/>
</g>
<path d="M964.6 80.9V601.2" stroke="#0b5fd2" stroke-width="3.4" stroke-dasharray="16 15.65" fill="none"/>
<g stroke="#000" stroke-width="1" fill="none">
<path d="M138.5 601.2H163.5M151 590.5H163.5M151 579.8H163.5M151 569.2H163.5M151 558.5H163.5M151 547.8H163.5M151 537.1H163.5M151 526.4H163.5M151 515.8H163.5M151 505.1H163.5M138.5 494.4H163.5M151 483.7H163.5M151 473.0H163.5M151 462.4H163.5M151 451.7H163.5M151 441.0H163.5M151 430.3H163.5M151 419.6H163.5M151 409.0H163.5M151 398.3H163.5M138.5 387.6H163.5M151 376.9H163.5M151 366.2H163.5M151 355.6H163.5M151 344.9H163.5M151 334.2H163.5M151 323.5H163.5M151 312.8H163.5M151 302.2H163.5M151 291.5H163.5M138.5 280.8H163.5M151 270.1H163.5M151 259.4H163.5M151 248.8H163.5M151 238.1H163.5M151 227.4H163.5M151 216.7H163.5M151 206.0H163.5M151 195.4H163.5M151 184.7H163.5M138.5 174.0H163.5M151 163.3H163.5M151 152.6H163.5M151 142.0H163.5M151 131.3H163.5M151 120.6H163.5M151 109.9H163.5M151 99.2H163.5M151 88.6H163.5M151 77.9H163.5M138.5 67.2H163.5M163.5 601.2v7.6M233.2 601.2v4.0M302.9 601.2v4.0M372.6 601.2v4.0M442.2 601.2v4.0M511.9 601.2v4.0M581.6 601.2v7.6M651.3 601.2v4.0M721.0 601.2v4.0M790.7 601.2v4.0M860.4 601.2v4.0M930.1 601.2v4.0M999.8 601.2v7.6M1069.4 601.2v4.0M1139.1 601.2v4.0M1208.8 601.2v4.0M1278.5 601.2v4.0M1348.2 601.2v4.0M1417.9 601.2v7.6M1487.6 601.2v4.0M1557.2 601.2v4.0M1626.9 601.2v4.0M1696.6 601.2v4.0M1766.3 601.2v4.0M1836.0 601.2v7.6"/>
</g>
<g font-size="36.6" text-anchor="end">
<text x="129.2" y="89.0">90</text>
<text x="129.2" y="186.8">80</text>
<text x="129.2" y="293.6">70</text>
<text x="129.2" y="400.4">60</text>
<text x="129.2" y="507.2">50</text>
<text x="129.2" y="601.4">40</text>
</g>
<g font-size="36.6" text-anchor="middle">
<text x="164.0" y="655.2">0</text>
<text x="582.1" y="655.2">90</text>
<text x="1000.2" y="655.2">180</text>
<text x="1418.4" y="655.2">270</text>
<text x="1836.5" y="655.2">360</text>
<text x="999.8" y="695.7">SIII Longitude (<tspan font-size="17" dy="-17">o</tspan><tspan dy="17">)</tspan></text>
</g>
<text font-size="41.8" text-anchor="middle" x="1000.8" y="51.4">Northern hemisphere</text>
<text font-size="36.6" text-anchor="middle" transform="translate(60.6 334.2) rotate(-90)">Latitude (<tspan font-size="17" dy="-17">o</tspan><tspan dy="17">)</tspan></text>
<rect x="163.0" y="766.9" width="1674.0" height="534.9" fill="#000"/>
<g stroke="#fff" stroke-width="3" stroke-dasharray="3 8.03" fill="none">
<path d="M163.9 1248.0H1837.0"/>
<path d="M163.9 1194.6H1837.0"/>
<path d="M163.9 1141.2H1837.0"/>
<path d="M163.9 1087.8H1837.0"/>
<path d="M163.9 1034.4H1837.0"/>
<path d="M163.9 981.0H1837.0"/>
<path d="M163.9 927.6H1837.0"/>
<path d="M163.9 874.2H1837.0"/>
<path d="M163.9 820.8H1837.0"/>
</g>
<g stroke="#fff" stroke-width="3" stroke-dasharray="3 8.03" fill="none" clip-path="url(#clipx)">
<path d="M163.5 1301.7V767.4"/>
<path d="M233.2 1301.7V767.4"/>
<path d="M302.9 1301.7V767.4"/>
<path d="M372.6 1301.7V767.4"/>
<path d="M442.2 1301.7V767.4"/>
<path d="M511.9 1301.7V767.4"/>
<path d="M581.6 1301.7V767.4"/>
<path d="M651.3 1301.7V767.4"/>
<path d="M721.0 1301.7V767.4"/>
<path d="M790.7 1301.7V767.4"/>
<path d="M860.4 1301.7V767.4"/>
<path d="M930.1 1301.7V767.4"/>
<path d="M999.8 1301.7V767.4"/>
<path d="M1069.4 1301.7V767.4"/>
<path d="M1139.1 1301.7V767.4"/>
<path d="M1208.8 1301.7V767.4"/>
<path d="M1278.5 1301.7V767.4"/>
<path d="M1348.2 1301.7V767.4"/>
<path d="M1417.9 1301.7V767.4"/>
<path d="M1487.6 1301.7V767.4"/>
<path d="M1557.2 1301.7V767.4"/>
<path d="M1626.9 1301.7V767.4"/>
<path d="M1696.6 1301.7V767.4"/>
<path d="M1766.3 1301.7V767.4"/>
<path d="M1836.0 1301.7V767.4"/>
</g>
<path d="M964.6 781.1V1301.4" stroke="#0b5fd2" stroke-width="3.4" stroke-dasharray="16 15.65" fill="none"/>
<g stroke="#000" stroke-width="1" fill="none">
<path d="M138.5 1301.4H163.5M151 1290.7H163.5M151 1280.0H163.5M151 1269.4H163.5M151 1258.7H163.5M151 1248.0H163.5M151 1237.3H163.5M151 1226.6H163.5M151 1216.0H163.5M151 1205.3H163.5M138.5 1194.6H163.5M151 1183.9H163.5M151 1173.2H163.5M151 1162.6H163.5M151 1151.9H163.5M151 1141.2H163.5M151 1130.5H163.5M151 1119.8H163.5M151 1109.2H163.5M151 1098.5H163.5M138.5 1087.8H163.5M151 1077.1H163.5M151 1066.4H163.5M151 1055.8H163.5M151 1045.1H163.5M151 1034.4H163.5M151 1023.7H163.5M151 1013.0H163.5M151 1002.4H163.5M151 991.7H163.5M138.5 981.0H163.5M151 970.3H163.5M151 959.6H163.5M151 949.0H163.5M151 938.3H163.5M151 927.6H163.5M151 916.9H163.5M151 906.2H163.5M151 895.6H163.5M151 884.9H163.5M138.5 874.2H163.5M151 863.5H163.5M151 852.8H163.5M151 842.2H163.5M151 831.5H163.5M151 820.8H163.5M151 810.1H163.5M151 799.4H163.5M151 788.8H163.5M151 778.1H163.5M138.5 767.4H163.5M163.5 1301.4v7.6M233.2 1301.4v4.0M302.9 1301.4v4.0M372.6 1301.4v4.0M442.2 1301.4v4.0M511.9 1301.4v4.0M581.6 1301.4v7.6M651.3 1301.4v4.0M721.0 1301.4v4.0M790.7 1301.4v4.0M860.4 1301.4v4.0M930.1 1301.4v4.0M999.8 1301.4v7.6M1069.4 1301.4v4.0M1139.1 1301.4v4.0M1208.8 1301.4v4.0M1278.5 1301.4v4.0M1348.2 1301.4v4.0M1417.9 1301.4v7.6M1487.6 1301.4v4.0M1557.2 1301.4v4.0M1626.9 1301.4v4.0M1696.6 1301.4v4.0M1766.3 1301.4v4.0M1836.0 1301.4v7.6"/>
</g>
<g font-size="36.6" text-anchor="end">
<text x="129.2" y="789.2">-40</text>
<text x="129.2" y="887.0">-50</text>
<text x="129.2" y="993.8">-60</text>
<text x="129.2" y="1100.6">-70</text>
<text x="129.2" y="1207.4">-80</text>
<text x="129.2" y="1301.6">-90</text>
</g>
<g font-size="36.6" text-anchor="middle">
<text x="164.0" y="1355.4">0</text>
<text x="582.1" y="1355.4">90</text>
<text x="1000.2" y="1355.4">180</text>
<text x="1418.4" y="1355.4">270</text>
<text x="1836.5" y="1355.4">360</text>
<text x="999.8" y="1395.9">SIII Longitude (<tspan font-size="17" dy="-17">o</tspan><tspan dy="17">)</tspan></text>
</g>
<text font-size="41.8" text-anchor="middle" x="1000.8" y="751.6">Southern hemisphere</text>
<text font-size="36.6" text-anchor="middle" transform="translate(47.5 1034.4) rotate(-90)">Latitude (<tspan font-size="17" dy="-17">o</tspan><tspan dy="17">)</tspan></text>
<text font-size="29.3" x="1837.8" y="1077.4">kR H<tspan font-size="12.5" dy="4.6">2</tspan></text>
<rect x="1851" y="1090.2" width="38" height="209.39999999999986" fill="url(#cb)" stroke="#000" stroke-width="2"/>
<path d="M1852 1299.4h3.5M1888 1299.4h-3.5M1852 1279.5h1.3M1888 1279.5h-1.3M1852 1267.9h1.3M1888 1267.9h-1.3M1852 1259.7h1.3M1888 1259.7h-1.3M1852 1253.3h1.3M1888 1253.3h-1.3M1852 1248.0h1.3M1888 1248.0h-1.3M1852 1243.6h1.3M1888 1243.6h-1.3M1852 1239.8h1.3M1888 1239.8h-1.3M1852 1236.4h1.3M1888 1236.4h-1.3M1852 1233.4h3.5M1888 1233.4h-3.5M1852 1213.5h1.3M1888 1213.5h-1.3M1852 1201.9h1.3M1888 1201.9h-1.3M1852 1193.7h1.3M1888 1193.7h-1.3M1852 1187.3h1.3M1888 1187.3h-1.3M1852 1182.0h1.3M1888 1182.0h-1.3M1852 1177.6h1.3M1888 1177.6h-1.3M1852 1173.8h1.3M1888 1173.8h-1.3M1852 1170.4h1.3M1888 1170.4h-1.3M1852 1167.4h3.5M1888 1167.4h-3.5M1852 1147.5h1.3M1888 1147.5h-1.3M1852 1135.9h1.3M1888 1135.9h-1.3M1852 1127.7h1.3M1888 1127.7h-1.3M1852 1121.3h1.3M1888 1121.3h-1.3M1852 1116.0h1.3M1888 1116.0h-1.3M1852 1111.6h1.3M1888 1111.6h-1.3M1852 1107.8h1.3M1888 1107.8h-1.3M1852 1104.4h1.3M1888 1104.4h-1.3M1852 1101.4h3.5M1888 1101.4h-3.5M1857.3 1091.2v1.6M1865.7 1091.2v1.6M1874.0 1091.2v1.6M1882.2 1091.2v1.6" stroke="#000" stroke-width="1" fill="none"/>
<g font-size="29.5">
<text x="1897.5" y="1299.3">1</text>
<text x="1897.5" y="1243.3">10</text>
<text x="1897.5" y="1177.3">100</text>
<text x="1897.5" y="1111.3">1000</text>
</g>
</svg>
</body></html>
